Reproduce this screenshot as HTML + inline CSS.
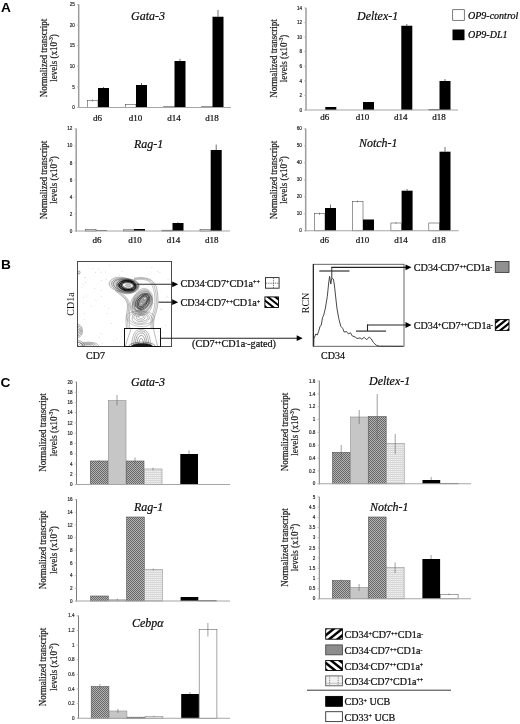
<!DOCTYPE html>
<html><head><meta charset="utf-8"><title>Figure</title>
<style>
html,body{margin:0;padding:0;background:#fff;}
body{width:520px;height:724px;overflow:hidden;font-family:"Liberation Serif",serif;}
svg{display:block;position:absolute;left:0;top:0;}
#fig{position:relative;width:520px;height:724px;overflow:hidden;will-change:transform;}
.it{position:absolute;-webkit-text-stroke:0.22px;transform-origin:0 0;font-family:"Liberation Serif",serif;font-style:italic;line-height:1;white-space:nowrap;margin:0;padding:0;}
</style></head><body>
<div id="fig">
<svg width="520" height="724" viewBox="0 0 520 724">
<defs>
<pattern id="chk" width="2" height="2" patternUnits="userSpaceOnUse">
<rect width="2" height="2" fill="#b2b2b2"/><rect width="1" height="1" fill="#686868"/><rect x="1" y="1" width="1" height="1" fill="#686868"/>
</pattern>
<pattern id="dot" width="2" height="2" patternUnits="userSpaceOnUse">
<rect width="2" height="2" fill="#f1f1f1"/><rect width="2" height="0.8" fill="#cfcfcf"/><rect width="0.7" height="2" fill="#dcdcdc"/>
</pattern>
<pattern id="hf" width="4" height="4" patternUnits="userSpaceOnUse" patternTransform="rotate(-45)">
<rect width="4" height="4" fill="#fff"/><rect width="4" height="2.3" fill="#000"/>
</pattern>
<pattern id="hb" width="4" height="4" patternUnits="userSpaceOnUse" patternTransform="rotate(45)">
<rect width="4" height="4" fill="#fff"/><rect width="4" height="2.3" fill="#000"/>
</pattern>
<pattern id="dotb" width="4.6" height="3.6" patternUnits="userSpaceOnUse">
<rect width="4.6" height="3.6" fill="#f4f4f4"/><rect x="1.9" width="0.7" height="3.6" fill="#999"/><rect y="1.5" width="4.6" height="0.6" fill="#aaa"/>
</pattern>
</defs>
<rect width="520" height="724" fill="#fff"/>

<text x="1.1" y="11.9" font-size="13.7" text-anchor="start" font-family='"Liberation Sans", sans-serif' fill="#000" font-weight="bold" >A</text>
<text x="1.1" y="269.4" font-size="13.7" text-anchor="start" font-family='"Liberation Sans", sans-serif' fill="#000" font-weight="bold" >B</text>
<text x="0.6" y="387" font-size="13.7" text-anchor="start" font-family='"Liberation Sans", sans-serif' fill="#000" font-weight="bold" >C</text>
<rect x="87.30" y="100.50" width="10.70" height="7.00" fill="#fff" stroke="#444" stroke-width="0.55"/>
<rect x="98.00" y="88.00" width="11.00" height="19.50" fill="#000"/>
<line x1="92.5" y1="99.3" x2="92.5" y2="101.6" stroke="#666" stroke-width="0.6"/>
<line x1="103.5" y1="87" x2="103.5" y2="88" stroke="#333" stroke-width="0.7"/>
<rect x="125.30" y="104.40" width="10.70" height="3.10" fill="#fff" stroke="#444" stroke-width="0.55"/>
<rect x="136.00" y="85.00" width="11.00" height="22.50" fill="#000"/>
<line x1="141.5" y1="83" x2="141.5" y2="85" stroke="#333" stroke-width="0.7"/>
<rect x="163.80" y="106.30" width="10.70" height="1.20" fill="#fff" stroke="#444" stroke-width="0.55"/>
<rect x="174.50" y="61.00" width="11.00" height="46.50" fill="#000"/>
<line x1="180.0" y1="58.8" x2="180.0" y2="61" stroke="#333" stroke-width="0.7"/>
<rect x="201.80" y="106.60" width="10.70" height="0.90" fill="#fff" stroke="#444" stroke-width="0.55"/>
<rect x="212.50" y="16.75" width="11.00" height="90.75" fill="#000"/>
<line x1="218.0" y1="10" x2="218.0" y2="16.75" stroke="#333" stroke-width="0.7"/>
<line x1="78.7" y1="4.2" x2="78.7" y2="108.0" stroke="#9c9c9c" stroke-width="1.5"/>
<line x1="78.0" y1="107.5" x2="231" y2="107.5" stroke="#a6a6a6" stroke-width="1.1"/>
<line x1="76.9" y1="4.5" x2="78.7" y2="4.5" stroke="#b0b0b0" stroke-width="0.8"/>
<text x="74.8" y="6.15" font-size="4.6" text-anchor="end" font-family='"Liberation Sans", sans-serif' fill="#2a2a2a"  stroke="#2a2a2a" stroke-width="0.18">25</text>
<line x1="76.9" y1="25.1" x2="78.7" y2="25.1" stroke="#b0b0b0" stroke-width="0.8"/>
<text x="74.8" y="26.75" font-size="4.6" text-anchor="end" font-family='"Liberation Sans", sans-serif' fill="#2a2a2a"  stroke="#2a2a2a" stroke-width="0.18">20</text>
<line x1="76.9" y1="45.7" x2="78.7" y2="45.7" stroke="#b0b0b0" stroke-width="0.8"/>
<text x="74.8" y="47.35" font-size="4.6" text-anchor="end" font-family='"Liberation Sans", sans-serif' fill="#2a2a2a"  stroke="#2a2a2a" stroke-width="0.18">15</text>
<line x1="76.9" y1="66.3" x2="78.7" y2="66.3" stroke="#b0b0b0" stroke-width="0.8"/>
<text x="74.8" y="67.95" font-size="4.6" text-anchor="end" font-family='"Liberation Sans", sans-serif' fill="#2a2a2a"  stroke="#2a2a2a" stroke-width="0.18">10</text>
<line x1="76.9" y1="86.9" x2="78.7" y2="86.9" stroke="#b0b0b0" stroke-width="0.8"/>
<text x="74.8" y="88.55000000000001" font-size="4.6" text-anchor="end" font-family='"Liberation Sans", sans-serif' fill="#2a2a2a"  stroke="#2a2a2a" stroke-width="0.18">5</text>
<line x1="76.9" y1="107.5" x2="78.7" y2="107.5" stroke="#b0b0b0" stroke-width="0.8"/>
<text x="74.8" y="109.15" font-size="4.6" text-anchor="end" font-family='"Liberation Sans", sans-serif' fill="#2a2a2a"  stroke="#2a2a2a" stroke-width="0.18">0</text>
<text x="97.5" y="120.6" font-size="9" text-anchor="middle" font-family='"Liberation Serif", serif' fill="#111"   stroke="#111" stroke-width="0.22">d6</text>
<text x="135.5" y="120.6" font-size="9" text-anchor="middle" font-family='"Liberation Serif", serif' fill="#111"   stroke="#111" stroke-width="0.22">d10</text>
<text x="174.0" y="120.6" font-size="9" text-anchor="middle" font-family='"Liberation Serif", serif' fill="#111"   stroke="#111" stroke-width="0.22">d14</text>
<text x="212.0" y="120.6" font-size="9" text-anchor="middle" font-family='"Liberation Serif", serif' fill="#111"   stroke="#111" stroke-width="0.22">d18</text>
<text transform="translate(46.9,58) rotate(-90) scale(0.875,1)" font-size="10.3" text-anchor="middle" font-family='"Liberation Serif", serif' fill="#1a1a1a" stroke="#1a1a1a" stroke-width="0.2">Normalized transcript</text>
<text transform="translate(57.4,58) rotate(-90) scale(0.875,1)" font-size="10.3" text-anchor="middle" font-family='"Liberation Serif", serif' fill="#1a1a1a" stroke="#1a1a1a" stroke-width="0.2">levels (x10<tspan font-size="6.39" dy="-3.91">-3</tspan><tspan dy="3.91">)</tspan></text>
<rect x="325.30" y="107.00" width="11.00" height="3.00" fill="#000"/>
<rect x="363.00" y="102.00" width="11.00" height="8.00" fill="#000"/>
<rect x="401.30" y="25.75" width="11.00" height="84.25" fill="#000"/>
<line x1="406.8" y1="24" x2="406.8" y2="25.75" stroke="#333" stroke-width="0.7"/>
<rect x="428.80" y="109.60" width="10.70" height="0.40" fill="#fff" stroke="#444" stroke-width="0.55"/>
<rect x="439.50" y="81.00" width="11.00" height="29.00" fill="#000"/>
<line x1="445.0" y1="79" x2="445.0" y2="81" stroke="#333" stroke-width="0.7"/>
<line x1="306" y1="7.7" x2="306" y2="110.5" stroke="#9c9c9c" stroke-width="1.5"/>
<line x1="305.3" y1="110" x2="458" y2="110" stroke="#a6a6a6" stroke-width="1.1"/>
<line x1="304.2" y1="8.0" x2="306" y2="8.0" stroke="#b0b0b0" stroke-width="0.8"/>
<text x="302.1" y="9.65" font-size="4.6" text-anchor="end" font-family='"Liberation Sans", sans-serif' fill="#2a2a2a"  stroke="#2a2a2a" stroke-width="0.18">14</text>
<line x1="304.2" y1="22.57142857142857" x2="306" y2="22.57142857142857" stroke="#b0b0b0" stroke-width="0.8"/>
<text x="302.1" y="24.221428571428568" font-size="4.6" text-anchor="end" font-family='"Liberation Sans", sans-serif' fill="#2a2a2a"  stroke="#2a2a2a" stroke-width="0.18">12</text>
<line x1="304.2" y1="37.14285714285714" x2="306" y2="37.14285714285714" stroke="#b0b0b0" stroke-width="0.8"/>
<text x="302.1" y="38.79285714285714" font-size="4.6" text-anchor="end" font-family='"Liberation Sans", sans-serif' fill="#2a2a2a"  stroke="#2a2a2a" stroke-width="0.18">10</text>
<line x1="304.2" y1="51.714285714285715" x2="306" y2="51.714285714285715" stroke="#b0b0b0" stroke-width="0.8"/>
<text x="302.1" y="53.364285714285714" font-size="4.6" text-anchor="end" font-family='"Liberation Sans", sans-serif' fill="#2a2a2a"  stroke="#2a2a2a" stroke-width="0.18">8</text>
<line x1="304.2" y1="66.28571428571428" x2="306" y2="66.28571428571428" stroke="#b0b0b0" stroke-width="0.8"/>
<text x="302.1" y="67.93571428571428" font-size="4.6" text-anchor="end" font-family='"Liberation Sans", sans-serif' fill="#2a2a2a"  stroke="#2a2a2a" stroke-width="0.18">6</text>
<line x1="304.2" y1="80.85714285714286" x2="306" y2="80.85714285714286" stroke="#b0b0b0" stroke-width="0.8"/>
<text x="302.1" y="82.50714285714287" font-size="4.6" text-anchor="end" font-family='"Liberation Sans", sans-serif' fill="#2a2a2a"  stroke="#2a2a2a" stroke-width="0.18">4</text>
<line x1="304.2" y1="95.42857142857143" x2="306" y2="95.42857142857143" stroke="#b0b0b0" stroke-width="0.8"/>
<text x="302.1" y="97.07857142857144" font-size="4.6" text-anchor="end" font-family='"Liberation Sans", sans-serif' fill="#2a2a2a"  stroke="#2a2a2a" stroke-width="0.18">2</text>
<line x1="304.2" y1="110.0" x2="306" y2="110.0" stroke="#b0b0b0" stroke-width="0.8"/>
<text x="302.1" y="111.65" font-size="4.6" text-anchor="end" font-family='"Liberation Sans", sans-serif' fill="#2a2a2a"  stroke="#2a2a2a" stroke-width="0.18">0</text>
<text x="324.8" y="119.7" font-size="9" text-anchor="middle" font-family='"Liberation Serif", serif' fill="#111"   stroke="#111" stroke-width="0.22">d6</text>
<text x="362.5" y="119.7" font-size="9" text-anchor="middle" font-family='"Liberation Serif", serif' fill="#111"   stroke="#111" stroke-width="0.22">d10</text>
<text x="400.8" y="119.7" font-size="9" text-anchor="middle" font-family='"Liberation Serif", serif' fill="#111"   stroke="#111" stroke-width="0.22">d14</text>
<text x="439.0" y="119.7" font-size="9" text-anchor="middle" font-family='"Liberation Serif", serif' fill="#111"   stroke="#111" stroke-width="0.22">d18</text>
<text transform="translate(276.9,58.5) rotate(-90) scale(0.875,1)" font-size="10.3" text-anchor="middle" font-family='"Liberation Serif", serif' fill="#1a1a1a" stroke="#1a1a1a" stroke-width="0.2">Normalized transcript</text>
<text transform="translate(287.4,58.5) rotate(-90) scale(0.875,1)" font-size="10.3" text-anchor="middle" font-family='"Liberation Serif", serif' fill="#1a1a1a" stroke="#1a1a1a" stroke-width="0.2">levels (x10<tspan font-size="6.39" dy="-3.91">-3</tspan><tspan dy="3.91">)</tspan></text>
<rect x="85.30" y="229.60" width="10.70" height="1.40" fill="#fff" stroke="#444" stroke-width="0.55"/>
<rect x="96.00" y="230.40" width="11.00" height="0.60" fill="#000"/>
<rect x="123.30" y="229.80" width="10.70" height="1.20" fill="#fff" stroke="#444" stroke-width="0.55"/>
<rect x="134.00" y="229.00" width="11.00" height="2.00" fill="#000"/>
<rect x="161.80" y="230.20" width="10.70" height="0.80" fill="#fff" stroke="#444" stroke-width="0.55"/>
<rect x="172.50" y="223.00" width="11.00" height="8.00" fill="#000"/>
<line x1="178.0" y1="222.4" x2="178.0" y2="223" stroke="#333" stroke-width="0.7"/>
<rect x="200.00" y="229.60" width="10.70" height="1.40" fill="#fff" stroke="#444" stroke-width="0.55"/>
<rect x="210.70" y="150.00" width="11.00" height="81.00" fill="#000"/>
<line x1="216.2" y1="144.5" x2="216.2" y2="150" stroke="#333" stroke-width="0.7"/>
<line x1="76.2" y1="128.5" x2="76.2" y2="231.5" stroke="#9c9c9c" stroke-width="1.5"/>
<line x1="75.5" y1="231" x2="230" y2="231" stroke="#a6a6a6" stroke-width="1.1"/>
<line x1="74.4" y1="128.8" x2="76.2" y2="128.8" stroke="#b0b0b0" stroke-width="0.8"/>
<text x="72.3" y="130.45000000000002" font-size="4.6" text-anchor="end" font-family='"Liberation Sans", sans-serif' fill="#2a2a2a"  stroke="#2a2a2a" stroke-width="0.18">12</text>
<line x1="74.4" y1="145.83333333333334" x2="76.2" y2="145.83333333333334" stroke="#b0b0b0" stroke-width="0.8"/>
<text x="72.3" y="147.48333333333335" font-size="4.6" text-anchor="end" font-family='"Liberation Sans", sans-serif' fill="#2a2a2a"  stroke="#2a2a2a" stroke-width="0.18">10</text>
<line x1="74.4" y1="162.86666666666667" x2="76.2" y2="162.86666666666667" stroke="#b0b0b0" stroke-width="0.8"/>
<text x="72.3" y="164.51666666666668" font-size="4.6" text-anchor="end" font-family='"Liberation Sans", sans-serif' fill="#2a2a2a"  stroke="#2a2a2a" stroke-width="0.18">8</text>
<line x1="74.4" y1="179.9" x2="76.2" y2="179.9" stroke="#b0b0b0" stroke-width="0.8"/>
<text x="72.3" y="181.55" font-size="4.6" text-anchor="end" font-family='"Liberation Sans", sans-serif' fill="#2a2a2a"  stroke="#2a2a2a" stroke-width="0.18">6</text>
<line x1="74.4" y1="196.93333333333334" x2="76.2" y2="196.93333333333334" stroke="#b0b0b0" stroke-width="0.8"/>
<text x="72.3" y="198.58333333333334" font-size="4.6" text-anchor="end" font-family='"Liberation Sans", sans-serif' fill="#2a2a2a"  stroke="#2a2a2a" stroke-width="0.18">4</text>
<line x1="74.4" y1="213.96666666666667" x2="76.2" y2="213.96666666666667" stroke="#b0b0b0" stroke-width="0.8"/>
<text x="72.3" y="215.61666666666667" font-size="4.6" text-anchor="end" font-family='"Liberation Sans", sans-serif' fill="#2a2a2a"  stroke="#2a2a2a" stroke-width="0.18">2</text>
<line x1="74.4" y1="231.0" x2="76.2" y2="231.0" stroke="#b0b0b0" stroke-width="0.8"/>
<text x="72.3" y="232.65" font-size="4.6" text-anchor="end" font-family='"Liberation Sans", sans-serif' fill="#2a2a2a"  stroke="#2a2a2a" stroke-width="0.18">0</text>
<text x="97.1" y="243.3" font-size="9" text-anchor="middle" font-family='"Liberation Serif", serif' fill="#111"   stroke="#111" stroke-width="0.22">d6</text>
<text x="135.1" y="243.3" font-size="9" text-anchor="middle" font-family='"Liberation Serif", serif' fill="#111"   stroke="#111" stroke-width="0.22">d10</text>
<text x="173.6" y="243.3" font-size="9" text-anchor="middle" font-family='"Liberation Serif", serif' fill="#111"   stroke="#111" stroke-width="0.22">d14</text>
<text x="211.79999999999998" y="243.3" font-size="9" text-anchor="middle" font-family='"Liberation Serif", serif' fill="#111"   stroke="#111" stroke-width="0.22">d18</text>
<text transform="translate(46.9,180) rotate(-90) scale(0.875,1)" font-size="10.3" text-anchor="middle" font-family='"Liberation Serif", serif' fill="#1a1a1a" stroke="#1a1a1a" stroke-width="0.2">Normalized transcript</text>
<text transform="translate(57.4,180) rotate(-90) scale(0.875,1)" font-size="10.3" text-anchor="middle" font-family='"Liberation Serif", serif' fill="#1a1a1a" stroke="#1a1a1a" stroke-width="0.2">levels (x10<tspan font-size="6.39" dy="-3.91">-3</tspan><tspan dy="3.91">)</tspan></text>
<rect x="314.30" y="213.70" width="10.70" height="17.10" fill="#fff" stroke="#444" stroke-width="0.55"/>
<rect x="325.00" y="208.00" width="11.00" height="22.80" fill="#000"/>
<line x1="319.5" y1="212.5" x2="319.5" y2="215" stroke="#666" stroke-width="0.6"/>
<line x1="330.5" y1="204.5" x2="330.5" y2="208" stroke="#333" stroke-width="0.7"/>
<rect x="352.30" y="201.50" width="10.70" height="29.30" fill="#fff" stroke="#444" stroke-width="0.55"/>
<rect x="363.00" y="219.50" width="11.00" height="11.30" fill="#000"/>
<line x1="357.5" y1="200.5" x2="357.5" y2="202.5" stroke="#666" stroke-width="0.6"/>
<rect x="390.90" y="223.00" width="10.70" height="7.80" fill="#fff" stroke="#444" stroke-width="0.55"/>
<rect x="401.60" y="190.70" width="11.00" height="40.10" fill="#000"/>
<line x1="396.1" y1="222" x2="396.1" y2="224" stroke="#666" stroke-width="0.6"/>
<line x1="407.1" y1="189" x2="407.1" y2="190.7" stroke="#333" stroke-width="0.7"/>
<rect x="428.80" y="223.00" width="10.70" height="7.80" fill="#fff" stroke="#444" stroke-width="0.55"/>
<rect x="439.50" y="151.70" width="11.00" height="79.10" fill="#000"/>
<line x1="445.0" y1="147" x2="445.0" y2="151.7" stroke="#333" stroke-width="0.7"/>
<line x1="305.7" y1="128.5" x2="305.7" y2="231.3" stroke="#9c9c9c" stroke-width="1.5"/>
<line x1="305.0" y1="230.8" x2="458.7" y2="230.8" stroke="#a6a6a6" stroke-width="1.1"/>
<line x1="303.9" y1="128.8" x2="305.7" y2="128.8" stroke="#b0b0b0" stroke-width="0.8"/>
<text x="301.8" y="130.45000000000002" font-size="4.6" text-anchor="end" font-family='"Liberation Sans", sans-serif' fill="#2a2a2a"  stroke="#2a2a2a" stroke-width="0.18">60</text>
<line x1="303.9" y1="145.8" x2="305.7" y2="145.8" stroke="#b0b0b0" stroke-width="0.8"/>
<text x="301.8" y="147.45000000000002" font-size="4.6" text-anchor="end" font-family='"Liberation Sans", sans-serif' fill="#2a2a2a"  stroke="#2a2a2a" stroke-width="0.18">50</text>
<line x1="303.9" y1="162.8" x2="305.7" y2="162.8" stroke="#b0b0b0" stroke-width="0.8"/>
<text x="301.8" y="164.45000000000002" font-size="4.6" text-anchor="end" font-family='"Liberation Sans", sans-serif' fill="#2a2a2a"  stroke="#2a2a2a" stroke-width="0.18">40</text>
<line x1="303.9" y1="179.8" x2="305.7" y2="179.8" stroke="#b0b0b0" stroke-width="0.8"/>
<text x="301.8" y="181.45000000000002" font-size="4.6" text-anchor="end" font-family='"Liberation Sans", sans-serif' fill="#2a2a2a"  stroke="#2a2a2a" stroke-width="0.18">30</text>
<line x1="303.9" y1="196.8" x2="305.7" y2="196.8" stroke="#b0b0b0" stroke-width="0.8"/>
<text x="301.8" y="198.45000000000002" font-size="4.6" text-anchor="end" font-family='"Liberation Sans", sans-serif' fill="#2a2a2a"  stroke="#2a2a2a" stroke-width="0.18">20</text>
<line x1="303.9" y1="213.8" x2="305.7" y2="213.8" stroke="#b0b0b0" stroke-width="0.8"/>
<text x="301.8" y="215.45000000000002" font-size="4.6" text-anchor="end" font-family='"Liberation Sans", sans-serif' fill="#2a2a2a"  stroke="#2a2a2a" stroke-width="0.18">10</text>
<line x1="303.9" y1="230.8" x2="305.7" y2="230.8" stroke="#b0b0b0" stroke-width="0.8"/>
<text x="301.8" y="232.45000000000002" font-size="4.6" text-anchor="end" font-family='"Liberation Sans", sans-serif' fill="#2a2a2a"  stroke="#2a2a2a" stroke-width="0.18">0</text>
<text x="324.5" y="243.3" font-size="9" text-anchor="middle" font-family='"Liberation Serif", serif' fill="#111"   stroke="#111" stroke-width="0.22">d6</text>
<text x="362.5" y="243.3" font-size="9" text-anchor="middle" font-family='"Liberation Serif", serif' fill="#111"   stroke="#111" stroke-width="0.22">d10</text>
<text x="401.1" y="243.3" font-size="9" text-anchor="middle" font-family='"Liberation Serif", serif' fill="#111"   stroke="#111" stroke-width="0.22">d14</text>
<text x="439.0" y="243.3" font-size="9" text-anchor="middle" font-family='"Liberation Serif", serif' fill="#111"   stroke="#111" stroke-width="0.22">d18</text>
<text transform="translate(276.9,180) rotate(-90) scale(0.875,1)" font-size="10.3" text-anchor="middle" font-family='"Liberation Serif", serif' fill="#1a1a1a" stroke="#1a1a1a" stroke-width="0.2">Normalized transcript</text>
<text transform="translate(287.4,180) rotate(-90) scale(0.875,1)" font-size="10.3" text-anchor="middle" font-family='"Liberation Serif", serif' fill="#1a1a1a" stroke="#1a1a1a" stroke-width="0.2">levels (x10<tspan font-size="6.39" dy="-3.91">-3</tspan><tspan dy="3.91">)</tspan></text>
<rect x="452.70" y="9.70" width="11.60" height="10.60" fill="#fff" stroke="#444" stroke-width="0.7"/>
<rect x="452.50" y="29.50" width="12.00" height="10.70" fill="#000"/>
<rect x="77.50" y="261.50" width="94.00" height="85.00" fill="none" stroke="#4a4a4a" stroke-width="1"/>
<g fill="none" stroke-linejoin="round">
<path d="M138.94,287.48 C138.82,288.03 138.64,288.58 138.34,289.09 C138.05,289.59 137.65,290.08 137.17,290.51 C136.69,290.93 136.09,291.31 135.47,291.65 C134.84,291.99 134.15,292.27 133.43,292.53 C132.72,292.79 131.98,293.03 131.19,293.22 C130.40,293.41 129.56,293.59 128.69,293.68 C127.82,293.76 126.87,293.80 125.95,293.72 C125.04,293.65 124.09,293.45 123.21,293.21 C122.32,292.98 121.50,292.64 120.64,292.33 C119.77,292.02 118.93,291.70 118.02,291.34 C117.11,290.97 116.14,290.60 115.18,290.13 C114.23,289.66 113.16,289.13 112.30,288.50 C111.44,287.86 110.56,287.10 110.04,286.32 C109.51,285.54 109.18,284.64 109.15,283.82 C109.13,283.00 109.43,282.15 109.89,281.41 C110.35,280.68 111.09,279.99 111.91,279.42 C112.73,278.85 113.75,278.37 114.80,278.02 C115.85,277.67 117.06,277.43 118.23,277.33 C119.39,277.22 120.64,277.28 121.78,277.37 C122.91,277.47 124.01,277.72 125.02,277.91 C126.02,278.11 126.91,278.37 127.81,278.57 C128.72,278.77 129.55,278.91 130.43,279.10 C131.32,279.29 132.26,279.43 133.13,279.71 C133.99,279.98 134.90,280.33 135.64,280.75 C136.37,281.17 137.05,281.70 137.55,282.24 C138.06,282.78 138.41,283.40 138.66,283.99 C138.90,284.58 139.00,285.19 139.05,285.77 C139.10,286.35 139.06,286.93 138.94,287.48 Z" stroke="#5e5e5e" stroke-width="0.45" fill="rgba(0,0,0,0.07)"/>
<path d="M138.31,287.10 C138.12,287.61 137.81,288.08 137.49,288.55 C137.18,289.01 136.84,289.44 136.44,289.86 C136.03,290.28 135.61,290.69 135.08,291.05 C134.56,291.41 133.96,291.75 133.29,292.02 C132.63,292.29 131.88,292.49 131.11,292.65 C130.34,292.80 129.52,292.90 128.70,292.95 C127.87,293.00 127.01,293.02 126.16,292.97 C125.30,292.93 124.41,292.83 123.55,292.68 C122.69,292.52 121.82,292.30 120.99,292.03 C120.15,291.77 119.31,291.46 118.52,291.09 C117.73,290.72 116.98,290.29 116.27,289.81 C115.56,289.34 114.88,288.82 114.26,288.26 C113.64,287.69 113.01,287.07 112.57,286.41 C112.12,285.74 111.70,285.00 111.58,284.29 C111.46,283.58 111.53,282.80 111.86,282.14 C112.19,281.49 112.84,280.85 113.56,280.36 C114.29,279.87 115.29,279.48 116.23,279.18 C117.17,278.88 118.23,278.69 119.22,278.55 C120.21,278.41 121.21,278.34 122.17,278.32 C123.13,278.30 124.08,278.34 124.99,278.42 C125.91,278.50 126.79,278.64 127.65,278.80 C128.50,278.95 129.32,279.14 130.14,279.35 C130.95,279.56 131.76,279.78 132.54,280.05 C133.32,280.33 134.10,280.64 134.81,281.00 C135.53,281.37 136.25,281.78 136.81,282.25 C137.38,282.72 137.88,283.26 138.19,283.80 C138.49,284.34 138.64,284.93 138.66,285.49 C138.68,286.04 138.50,286.59 138.31,287.10 Z" stroke="#4e4e4e" stroke-width="0.45" fill="rgba(0,0,0,0.07)"/>
<path d="M137.82,286.76 C137.72,287.25 137.52,287.72 137.28,288.18 C137.04,288.65 136.76,289.10 136.39,289.52 C136.02,289.94 135.58,290.35 135.05,290.70 C134.53,291.04 133.89,291.35 133.22,291.59 C132.55,291.82 131.79,291.99 131.03,292.11 C130.28,292.23 129.49,292.28 128.70,292.31 C127.92,292.34 127.12,292.33 126.33,292.26 C125.55,292.20 124.74,292.10 123.97,291.94 C123.20,291.79 122.44,291.57 121.71,291.32 C120.99,291.06 120.29,290.76 119.63,290.42 C118.97,290.09 118.35,289.72 117.74,289.31 C117.14,288.91 116.54,288.48 115.98,288.00 C115.42,287.52 114.82,287.01 114.39,286.44 C113.97,285.88 113.55,285.24 113.40,284.62 C113.26,284.00 113.27,283.31 113.52,282.73 C113.78,282.14 114.30,281.56 114.90,281.10 C115.51,280.64 116.34,280.25 117.15,279.95 C117.96,279.64 118.88,279.43 119.76,279.27 C120.64,279.10 121.55,279.01 122.43,278.97 C123.30,278.93 124.19,278.96 125.03,279.03 C125.87,279.10 126.68,279.24 127.46,279.39 C128.24,279.54 128.97,279.72 129.71,279.91 C130.44,280.10 131.15,280.30 131.85,280.53 C132.56,280.76 133.28,281.01 133.95,281.31 C134.62,281.62 135.31,281.96 135.87,282.36 C136.42,282.76 136.93,283.23 137.27,283.71 C137.61,284.19 137.81,284.73 137.90,285.24 C137.99,285.74 137.92,286.26 137.82,286.76 Z" stroke="#404040" stroke-width="0.5" fill="rgba(0,0,0,0.07)"/>
<path d="M136.95,286.40 C136.95,286.84 136.82,287.31 136.62,287.73 C136.42,288.16 136.11,288.57 135.76,288.95 C135.41,289.34 134.99,289.70 134.53,290.04 C134.06,290.37 133.54,290.70 132.96,290.96 C132.38,291.22 131.72,291.46 131.04,291.62 C130.35,291.78 129.58,291.87 128.84,291.90 C128.10,291.94 127.32,291.90 126.57,291.83 C125.83,291.76 125.09,291.63 124.36,291.49 C123.64,291.34 122.91,291.17 122.22,290.96 C121.52,290.75 120.80,290.51 120.17,290.20 C119.55,289.90 118.93,289.54 118.46,289.14 C117.99,288.74 117.61,288.28 117.34,287.82 C117.06,287.36 116.92,286.87 116.81,286.40 C116.70,285.93 116.67,285.45 116.69,284.98 C116.70,284.51 116.74,284.03 116.88,283.56 C117.02,283.10 117.21,282.61 117.53,282.18 C117.85,281.75 118.29,281.33 118.81,280.98 C119.33,280.64 119.98,280.34 120.64,280.09 C121.30,279.85 122.05,279.66 122.79,279.52 C123.53,279.38 124.31,279.28 125.08,279.24 C125.86,279.19 126.67,279.19 127.45,279.26 C128.23,279.34 129.03,279.47 129.75,279.67 C130.47,279.87 131.17,280.15 131.77,280.46 C132.37,280.76 132.89,281.14 133.37,281.50 C133.86,281.86 134.26,282.23 134.66,282.61 C135.06,282.99 135.45,283.37 135.77,283.78 C136.10,284.18 136.42,284.60 136.62,285.04 C136.81,285.48 136.94,285.95 136.95,286.40 Z" stroke="#303030" stroke-width="0.55" fill="rgba(0,0,0,0.07)"/>
<path d="M136.02,286.21 C136.03,286.62 136.01,287.03 135.91,287.43 C135.81,287.84 135.68,288.27 135.43,288.65 C135.18,289.03 134.83,289.42 134.39,289.73 C133.96,290.04 133.39,290.32 132.80,290.51 C132.21,290.71 131.53,290.83 130.87,290.91 C130.22,291.00 129.54,291.02 128.88,291.02 C128.22,291.02 127.57,290.99 126.93,290.93 C126.29,290.86 125.64,290.77 125.03,290.64 C124.42,290.50 123.81,290.32 123.25,290.10 C122.70,289.89 122.18,289.62 121.70,289.34 C121.22,289.07 120.79,288.76 120.37,288.43 C119.96,288.11 119.56,287.77 119.22,287.40 C118.88,287.03 118.55,286.64 118.34,286.23 C118.13,285.82 117.98,285.37 117.98,284.95 C117.98,284.52 118.11,284.08 118.33,283.69 C118.55,283.30 118.91,282.93 119.29,282.60 C119.67,282.26 120.14,281.97 120.61,281.70 C121.08,281.43 121.58,281.18 122.11,280.96 C122.64,280.74 123.20,280.53 123.79,280.39 C124.39,280.24 125.04,280.13 125.69,280.08 C126.34,280.04 127.03,280.07 127.68,280.13 C128.34,280.20 128.99,280.33 129.61,280.48 C130.23,280.63 130.83,280.82 131.40,281.04 C131.97,281.25 132.54,281.48 133.04,281.76 C133.55,282.03 134.04,282.35 134.43,282.68 C134.82,283.02 135.15,283.41 135.40,283.79 C135.64,284.18 135.78,284.59 135.89,285.00 C135.99,285.40 136.02,285.80 136.02,286.21 Z" stroke="#111" stroke-width="0.9" fill="rgba(0,0,0,0.25)"/>
<path d="M135.29,286.05 C135.35,286.40 135.38,286.78 135.28,287.13 C135.18,287.48 134.99,287.84 134.72,288.15 C134.44,288.46 134.04,288.75 133.62,288.99 C133.20,289.23 132.69,289.42 132.19,289.59 C131.68,289.75 131.14,289.88 130.59,289.97 C130.04,290.07 129.47,290.14 128.90,290.17 C128.34,290.20 127.74,290.19 127.18,290.13 C126.61,290.08 126.03,289.98 125.50,289.85 C124.96,289.72 124.44,289.54 123.95,289.35 C123.46,289.16 123.00,288.95 122.55,288.72 C122.11,288.49 121.67,288.24 121.29,287.97 C120.91,287.69 120.54,287.38 120.27,287.06 C120.01,286.74 119.80,286.37 119.69,286.02 C119.58,285.67 119.58,285.30 119.63,284.95 C119.68,284.60 119.84,284.26 120.01,283.93 C120.18,283.60 120.40,283.29 120.67,282.99 C120.93,282.69 121.22,282.39 121.57,282.12 C121.93,281.86 122.33,281.60 122.79,281.40 C123.26,281.20 123.79,281.03 124.34,280.92 C124.88,280.81 125.49,280.76 126.07,280.74 C126.65,280.72 127.25,280.76 127.83,280.82 C128.40,280.88 128.98,280.97 129.53,281.09 C130.08,281.21 130.63,281.37 131.13,281.56 C131.63,281.75 132.10,281.98 132.51,282.23 C132.92,282.49 133.28,282.78 133.59,283.08 C133.90,283.38 134.14,283.70 134.37,284.02 C134.59,284.34 134.78,284.66 134.94,285.00 C135.09,285.34 135.24,285.69 135.29,286.05 Z" stroke="#000" stroke-width="1.0" fill="none"/>
<path d="M134.24,285.96 C134.20,286.23 134.10,286.50 133.96,286.76 C133.81,287.01 133.60,287.25 133.37,287.48 C133.14,287.71 132.87,287.92 132.57,288.13 C132.28,288.33 131.97,288.53 131.61,288.71 C131.25,288.89 130.85,289.06 130.41,289.19 C129.98,289.31 129.48,289.42 128.98,289.46 C128.48,289.50 127.93,289.49 127.42,289.44 C126.91,289.40 126.40,289.29 125.92,289.17 C125.44,289.05 124.98,288.89 124.55,288.72 C124.12,288.56 123.71,288.37 123.33,288.17 C122.96,287.96 122.60,287.74 122.30,287.50 C122.01,287.26 121.75,286.99 121.56,286.72 C121.38,286.45 121.26,286.16 121.19,285.88 C121.12,285.60 121.12,285.32 121.15,285.04 C121.17,284.77 121.25,284.49 121.36,284.22 C121.48,283.96 121.62,283.69 121.84,283.45 C122.05,283.21 122.32,282.97 122.64,282.77 C122.96,282.57 123.35,282.40 123.76,282.26 C124.17,282.12 124.63,282.02 125.08,281.94 C125.54,281.86 126.01,281.81 126.49,281.77 C126.97,281.73 127.46,281.70 127.97,281.71 C128.47,281.71 128.99,281.73 129.49,281.81 C130.00,281.88 130.52,281.99 130.98,282.14 C131.44,282.30 131.88,282.50 132.24,282.72 C132.61,282.94 132.92,283.21 133.19,283.47 C133.45,283.73 133.65,284.01 133.82,284.28 C133.98,284.56 134.11,284.84 134.18,285.12 C134.25,285.40 134.28,285.68 134.24,285.96 Z" stroke="#000" stroke-width="1.0" fill="none"/>
<path d="M133.31,285.88 C133.32,286.08 133.28,286.29 133.19,286.48 C133.09,286.67 132.92,286.86 132.73,287.03 C132.53,287.19 132.28,287.34 132.01,287.48 C131.75,287.62 131.45,287.75 131.14,287.86 C130.82,287.97 130.49,288.08 130.12,288.16 C129.76,288.23 129.36,288.30 128.96,288.32 C128.55,288.34 128.11,288.33 127.71,288.28 C127.30,288.23 126.89,288.14 126.52,288.04 C126.15,287.94 125.81,287.81 125.49,287.68 C125.16,287.55 124.87,287.41 124.58,287.27 C124.30,287.13 124.02,286.98 123.77,286.82 C123.52,286.66 123.28,286.49 123.10,286.31 C122.91,286.13 122.76,285.93 122.66,285.73 C122.56,285.53 122.52,285.32 122.51,285.12 C122.50,284.92 122.53,284.72 122.61,284.52 C122.68,284.32 122.78,284.12 122.94,283.93 C123.11,283.75 123.32,283.57 123.58,283.42 C123.84,283.27 124.18,283.14 124.53,283.04 C124.88,282.95 125.30,282.90 125.69,282.86 C126.09,282.83 126.51,282.83 126.90,282.84 C127.30,282.85 127.69,282.88 128.08,282.91 C128.47,282.94 128.86,282.98 129.24,283.04 C129.62,283.10 130.02,283.17 130.37,283.27 C130.73,283.37 131.09,283.49 131.39,283.64 C131.69,283.78 131.96,283.96 132.18,284.13 C132.41,284.30 132.59,284.49 132.75,284.68 C132.91,284.87 133.04,285.07 133.14,285.27 C133.23,285.47 133.30,285.68 133.31,285.88 Z" stroke="#333" stroke-width="0.6" fill="#f6f6f6"/>
<path d="M131.03,285.80 C131.04,285.88 131.03,285.98 130.97,286.05 C130.91,286.13 130.81,286.21 130.69,286.27 C130.58,286.34 130.42,286.39 130.26,286.43 C130.11,286.48 129.94,286.51 129.77,286.55 C129.61,286.58 129.44,286.61 129.26,286.63 C129.08,286.65 128.90,286.68 128.71,286.68 C128.52,286.69 128.32,286.69 128.12,286.68 C127.93,286.67 127.73,286.65 127.54,286.61 C127.35,286.58 127.16,286.54 126.98,286.49 C126.81,286.44 126.64,286.39 126.48,286.33 C126.32,286.27 126.17,286.21 126.04,286.14 C125.90,286.07 125.78,285.99 125.69,285.91 C125.61,285.83 125.55,285.75 125.51,285.66 C125.48,285.58 125.48,285.49 125.50,285.41 C125.51,285.33 125.55,285.25 125.60,285.17 C125.64,285.10 125.70,285.02 125.78,284.95 C125.86,284.88 125.96,284.80 126.08,284.74 C126.20,284.68 126.35,284.63 126.52,284.59 C126.69,284.55 126.89,284.52 127.08,284.51 C127.27,284.50 127.48,284.50 127.68,284.51 C127.88,284.51 128.08,284.53 128.27,284.55 C128.47,284.57 128.66,284.59 128.84,284.62 C129.03,284.65 129.22,284.68 129.39,284.72 C129.57,284.77 129.75,284.82 129.90,284.88 C130.05,284.93 130.20,285.00 130.32,285.07 C130.45,285.14 130.56,285.22 130.66,285.29 C130.76,285.37 130.84,285.45 130.91,285.54 C130.97,285.62 131.02,285.71 131.03,285.80 Z" stroke="#6a6a6a" stroke-width="0.5" fill="#d0d0d0"/>
<path d="M134.00,278.20 C135.33,278.10 139.33,277.38 142.00,277.60 C144.67,277.82 147.75,278.27 150.00,279.50 C152.25,280.73 154.23,282.58 155.50,285.00 C156.77,287.42 157.22,290.83 157.60,294.00 C157.98,297.17 158.03,301.00 157.80,304.00 C157.57,307.00 156.83,309.50 156.20,312.00 C155.57,314.50 154.45,316.33 154.00,319.00 C153.55,321.67 153.58,326.50 153.50,328.00" stroke="#5e5e5e" stroke-width="0.45"/>
<path d="M134.00,278.95 C135.33,278.88 139.41,278.26 142.00,278.50 C144.59,278.74 147.55,279.19 149.55,280.40 C151.55,281.61 152.91,283.48 154.00,285.75 C155.09,288.02 155.72,290.96 156.10,294.00 C156.48,297.04 156.53,301.00 156.30,304.00 C156.07,307.00 155.33,309.50 154.70,312.00 C154.07,314.50 152.90,316.33 152.50,319.00 C152.10,321.67 152.33,326.50 152.30,328.00" stroke="#6c6c6c" stroke-width="0.45"/>
<path d="M134.00,279.70 C135.33,279.65 139.48,279.13 142.00,279.40 C144.52,279.67 147.35,280.12 149.10,281.30 C150.85,282.48 151.58,284.38 152.50,286.50 C153.42,288.62 154.22,291.08 154.60,294.00 C154.98,296.92 155.03,301.00 154.80,304.00 C154.57,307.00 153.83,309.50 153.20,312.00 C152.57,314.50 151.35,316.33 151.00,319.00 C150.65,321.67 151.08,326.50 151.10,328.00" stroke="#7c7c7c" stroke-width="0.45"/>
<path d="M115.00,290.50 C115.83,291.17 118.33,293.08 120.00,294.50 C121.67,295.92 123.75,297.25 125.00,299.00 C126.25,300.75 127.17,302.83 127.50,305.00 C127.83,307.17 127.25,309.50 127.00,312.00 C126.75,314.50 126.08,317.33 126.00,320.00 C125.92,322.67 126.42,326.67 126.50,328.00" stroke="#5e5e5e" stroke-width="0.45"/>
<path d="M116.60,290.50 C117.43,291.17 119.99,293.08 121.60,294.50 C123.21,295.92 125.11,297.25 126.28,299.00 C127.45,300.75 128.29,302.83 128.62,305.00 C128.95,307.17 128.45,309.50 128.28,312.00 C128.11,314.50 127.63,317.33 127.60,320.00 C127.57,322.67 128.02,326.67 128.10,328.00" stroke="#6c6c6c" stroke-width="0.45"/>
<path d="M118.20,290.50 C119.03,291.17 121.64,293.08 123.20,294.50 C124.76,295.92 126.47,297.25 127.56,299.00 C128.65,300.75 129.41,302.83 129.74,305.00 C130.07,307.17 129.65,309.50 129.56,312.00 C129.47,314.50 129.18,317.33 129.20,320.00 C129.22,322.67 129.62,326.67 129.70,328.00" stroke="#7c7c7c" stroke-width="0.45"/>
<path d="M149.34,290.73 C149.96,291.24 150.53,291.81 151.00,292.46 C151.47,293.11 151.89,293.84 152.17,294.63 C152.46,295.42 152.62,296.31 152.71,297.18 C152.81,298.06 152.77,298.98 152.73,299.89 C152.69,300.80 152.60,301.71 152.48,302.65 C152.36,303.59 152.25,304.55 152.01,305.54 C151.77,306.52 151.50,307.60 151.04,308.57 C150.58,309.55 149.98,310.58 149.28,311.41 C148.59,312.24 147.71,312.98 146.86,313.57 C146.01,314.16 145.07,314.57 144.18,314.93 C143.29,315.30 142.40,315.54 141.52,315.75 C140.64,315.95 139.76,316.13 138.90,316.17 C138.04,316.22 137.16,316.21 136.37,316.02 C135.58,315.83 134.80,315.49 134.16,315.03 C133.51,314.57 132.96,313.92 132.49,313.26 C132.02,312.59 131.66,311.82 131.34,311.04 C131.02,310.26 130.75,309.44 130.56,308.58 C130.38,307.72 130.23,306.81 130.23,305.88 C130.23,304.94 130.33,303.93 130.57,302.96 C130.81,302.00 131.22,301.00 131.66,300.08 C132.10,299.16 132.67,298.30 133.22,297.44 C133.78,296.59 134.36,295.78 134.98,294.95 C135.60,294.13 136.23,293.27 136.95,292.49 C137.68,291.71 138.48,290.88 139.34,290.28 C140.20,289.67 141.18,289.15 142.10,288.88 C143.02,288.61 144.00,288.55 144.87,288.64 C145.74,288.73 146.56,289.04 147.31,289.39 C148.05,289.74 148.73,290.22 149.34,290.73 Z" stroke="#6c6c6c" stroke-width="0.4" fill="rgba(0,0,0,0.06)"/>
<path d="M149.02,292.09 C149.48,292.63 149.82,293.27 150.18,293.87 C150.53,294.47 150.86,295.05 151.17,295.67 C151.48,296.30 151.83,296.92 152.06,297.63 C152.28,298.34 152.49,299.13 152.52,299.96 C152.55,300.79 152.46,301.71 152.25,302.60 C152.04,303.48 151.66,304.40 151.26,305.26 C150.85,306.12 150.34,306.96 149.81,307.77 C149.28,308.58 148.71,309.37 148.07,310.10 C147.44,310.83 146.74,311.56 146.01,312.15 C145.27,312.74 144.45,313.26 143.65,313.62 C142.85,313.99 142.00,314.20 141.21,314.33 C140.41,314.47 139.63,314.45 138.88,314.41 C138.13,314.38 137.40,314.28 136.70,314.10 C136.00,313.93 135.28,313.73 134.67,313.37 C134.05,313.02 133.45,312.57 133.02,311.98 C132.59,311.40 132.27,310.65 132.08,309.88 C131.89,309.12 131.88,308.23 131.89,307.39 C131.90,306.56 132.04,305.71 132.14,304.88 C132.24,304.05 132.36,303.25 132.52,302.41 C132.67,301.57 132.82,300.71 133.09,299.84 C133.36,298.98 133.70,298.05 134.15,297.21 C134.61,296.36 135.20,295.51 135.83,294.77 C136.46,294.03 137.21,293.36 137.96,292.76 C138.71,292.17 139.52,291.64 140.33,291.21 C141.14,290.78 142.00,290.40 142.83,290.18 C143.65,289.96 144.53,289.84 145.29,289.91 C146.06,289.98 146.81,290.25 147.43,290.61 C148.05,290.97 148.57,291.54 149.02,292.09 Z" stroke="#5e5e5e" stroke-width="0.45" fill="rgba(0,0,0,0.06)"/>
<path d="M148.97,292.88 C149.39,293.32 149.70,293.92 149.95,294.49 C150.21,295.06 150.36,295.71 150.52,296.33 C150.69,296.94 150.83,297.55 150.97,298.19 C151.10,298.83 151.27,299.47 151.33,300.18 C151.39,300.90 151.44,301.68 151.32,302.48 C151.21,303.27 150.97,304.15 150.62,304.95 C150.27,305.76 149.76,306.57 149.22,307.30 C148.68,308.02 148.03,308.70 147.38,309.30 C146.73,309.91 146.03,310.46 145.33,310.93 C144.63,311.40 143.89,311.83 143.16,312.12 C142.44,312.40 141.68,312.60 140.99,312.66 C140.30,312.73 139.62,312.64 139.01,312.50 C138.40,312.37 137.85,312.10 137.32,311.85 C136.78,311.60 136.29,311.32 135.80,311.01 C135.30,310.70 134.79,310.41 134.35,310.00 C133.91,309.60 133.46,309.14 133.16,308.58 C132.86,308.01 132.64,307.32 132.56,306.61 C132.49,305.90 132.57,305.08 132.70,304.30 C132.83,303.52 133.10,302.71 133.37,301.93 C133.63,301.15 133.95,300.39 134.30,299.62 C134.66,298.85 135.03,298.07 135.50,297.33 C135.96,296.59 136.49,295.83 137.08,295.19 C137.68,294.54 138.38,293.94 139.07,293.47 C139.76,292.99 140.52,292.63 141.24,292.34 C141.96,292.05 142.70,291.85 143.41,291.71 C144.12,291.58 144.84,291.49 145.51,291.51 C146.18,291.53 146.86,291.62 147.44,291.85 C148.01,292.08 148.55,292.44 148.97,292.88 Z" stroke="#4e4e4e" stroke-width="0.45" fill="rgba(0,0,0,0.06)"/>
<path d="M148.48,293.83 C148.98,294.02 149.52,294.22 149.95,294.56 C150.37,294.91 150.79,295.35 151.03,295.89 C151.27,296.43 151.39,297.11 151.39,297.80 C151.38,298.48 151.21,299.26 151.01,299.98 C150.81,300.70 150.49,301.43 150.18,302.13 C149.86,302.82 149.51,303.49 149.13,304.14 C148.75,304.80 148.35,305.45 147.90,306.04 C147.44,306.64 146.93,307.22 146.39,307.72 C145.86,308.22 145.26,308.66 144.67,309.03 C144.09,309.41 143.48,309.70 142.88,309.97 C142.29,310.24 141.69,310.47 141.08,310.66 C140.48,310.84 139.86,311.02 139.26,311.08 C138.67,311.14 138.05,311.15 137.52,311.01 C136.99,310.87 136.49,310.61 136.10,310.27 C135.70,309.93 135.39,309.44 135.13,308.97 C134.87,308.49 134.69,307.94 134.51,307.40 C134.34,306.85 134.18,306.30 134.08,305.70 C133.97,305.10 133.87,304.47 133.89,303.80 C133.92,303.12 134.01,302.37 134.23,301.66 C134.46,300.95 134.82,300.18 135.23,299.51 C135.64,298.83 136.18,298.19 136.71,297.61 C137.24,297.03 137.82,296.52 138.39,296.05 C138.96,295.57 139.54,295.14 140.12,294.76 C140.71,294.38 141.32,294.03 141.91,293.78 C142.51,293.53 143.12,293.35 143.70,293.25 C144.28,293.15 144.84,293.16 145.38,293.19 C145.92,293.22 146.43,293.31 146.94,293.42 C147.46,293.52 147.98,293.63 148.48,293.83 Z" stroke="#404040" stroke-width="0.5" fill="rgba(0,0,0,0.06)"/>
<path d="M148.18,294.46 C148.50,294.74 148.74,295.15 148.92,295.57 C149.10,296.00 149.17,296.51 149.24,296.99 C149.31,297.48 149.33,297.97 149.35,298.48 C149.37,298.99 149.40,299.49 149.37,300.03 C149.34,300.57 149.31,301.15 149.17,301.74 C149.03,302.33 148.82,302.98 148.53,303.58 C148.23,304.19 147.83,304.80 147.41,305.36 C146.98,305.91 146.48,306.43 145.98,306.90 C145.47,307.37 144.93,307.80 144.39,308.16 C143.84,308.53 143.27,308.87 142.72,309.10 C142.17,309.33 141.60,309.49 141.09,309.54 C140.57,309.59 140.08,309.52 139.64,309.40 C139.21,309.28 138.85,309.04 138.49,308.82 C138.14,308.60 137.84,308.34 137.53,308.10 C137.21,307.85 136.89,307.62 136.59,307.33 C136.29,307.04 135.96,306.75 135.74,306.36 C135.52,305.97 135.33,305.50 135.26,304.99 C135.19,304.48 135.23,303.87 135.34,303.28 C135.45,302.69 135.67,302.06 135.92,301.46 C136.16,300.85 136.47,300.25 136.81,299.66 C137.14,299.08 137.50,298.49 137.92,297.94 C138.33,297.39 138.79,296.84 139.28,296.38 C139.76,295.92 140.31,295.50 140.85,295.17 C141.38,294.84 141.95,294.60 142.48,294.40 C143.02,294.20 143.54,294.07 144.06,293.97 C144.57,293.87 145.08,293.79 145.57,293.77 C146.06,293.75 146.56,293.75 147.00,293.87 C147.43,293.98 147.86,294.17 148.18,294.46 Z" stroke="#2a2a2a" stroke-width="0.7" fill="rgba(0,0,0,0.10)"/>
<path d="M147.62,295.23 C147.92,295.42 148.21,295.64 148.43,295.94 C148.65,296.23 148.84,296.58 148.92,296.99 C149.01,297.40 149.01,297.89 148.93,298.38 C148.85,298.86 148.66,299.41 148.46,299.90 C148.27,300.40 147.99,300.89 147.75,301.36 C147.50,301.82 147.25,302.26 146.99,302.71 C146.74,303.16 146.49,303.61 146.20,304.06 C145.91,304.50 145.59,304.98 145.23,305.39 C144.87,305.81 144.46,306.23 144.04,306.57 C143.62,306.91 143.16,307.20 142.72,307.44 C142.27,307.69 141.81,307.87 141.37,308.02 C140.92,308.16 140.47,308.27 140.04,308.31 C139.62,308.34 139.19,308.34 138.83,308.23 C138.48,308.12 138.15,307.93 137.90,307.67 C137.66,307.41 137.49,307.04 137.36,306.67 C137.24,306.31 137.20,305.88 137.15,305.46 C137.11,305.05 137.10,304.64 137.10,304.21 C137.11,303.78 137.10,303.35 137.17,302.89 C137.23,302.43 137.32,301.93 137.49,301.45 C137.66,300.96 137.91,300.44 138.20,299.96 C138.49,299.49 138.86,299.03 139.23,298.61 C139.60,298.19 140.00,297.82 140.40,297.46 C140.80,297.10 141.20,296.76 141.61,296.44 C142.02,296.12 142.45,295.80 142.88,295.54 C143.32,295.28 143.78,295.04 144.21,294.89 C144.65,294.74 145.09,294.66 145.50,294.64 C145.90,294.62 146.28,294.69 146.64,294.79 C146.99,294.88 147.32,295.03 147.62,295.23 Z" stroke="#1c1c1c" stroke-width="0.8" fill="rgba(0,0,0,0.10)"/>
<path d="M146.71,296.33 C146.88,296.51 147.00,296.75 147.10,297.00 C147.20,297.25 147.27,297.53 147.32,297.82 C147.37,298.11 147.41,298.41 147.41,298.74 C147.40,299.06 147.38,299.42 147.29,299.79 C147.20,300.16 147.05,300.56 146.87,300.95 C146.68,301.33 146.43,301.72 146.18,302.09 C145.93,302.45 145.64,302.79 145.36,303.12 C145.08,303.46 144.80,303.77 144.51,304.09 C144.22,304.41 143.92,304.75 143.60,305.05 C143.28,305.36 142.93,305.68 142.58,305.92 C142.23,306.17 141.85,306.38 141.51,306.51 C141.17,306.64 140.82,306.70 140.52,306.71 C140.21,306.72 139.93,306.65 139.68,306.56 C139.43,306.47 139.21,306.34 139.02,306.17 C138.83,306.00 138.67,305.79 138.56,305.53 C138.46,305.28 138.40,304.97 138.39,304.65 C138.39,304.32 138.45,303.95 138.53,303.59 C138.61,303.23 138.74,302.86 138.86,302.50 C138.98,302.14 139.10,301.80 139.24,301.44 C139.38,301.07 139.50,300.71 139.67,300.33 C139.85,299.95 140.04,299.54 140.28,299.15 C140.52,298.77 140.82,298.37 141.14,298.03 C141.45,297.70 141.81,297.39 142.16,297.14 C142.51,296.88 142.87,296.69 143.22,296.51 C143.56,296.34 143.90,296.20 144.24,296.09 C144.57,295.99 144.90,295.90 145.21,295.87 C145.51,295.84 145.81,295.85 146.06,295.93 C146.31,296.00 146.53,296.15 146.71,296.33 Z" stroke="#222" stroke-width="0.7" fill="none"/>
<path d="M145.81,297.29 C145.87,297.33 145.93,297.37 145.97,297.42 C146.01,297.48 146.04,297.55 146.06,297.63 C146.07,297.70 146.08,297.79 146.07,297.89 C146.06,297.98 146.04,298.08 146.01,298.18 C145.98,298.28 145.94,298.39 145.89,298.49 C145.84,298.59 145.78,298.70 145.72,298.80 C145.65,298.90 145.57,298.99 145.49,299.08 C145.41,299.17 145.33,299.25 145.24,299.33 C145.15,299.40 145.06,299.46 144.97,299.52 C144.88,299.58 144.79,299.63 144.70,299.67 C144.61,299.72 144.52,299.76 144.43,299.79 C144.35,299.82 144.25,299.85 144.17,299.86 C144.09,299.86 144.01,299.86 143.94,299.84 C143.87,299.82 143.81,299.78 143.77,299.73 C143.72,299.69 143.68,299.63 143.65,299.56 C143.61,299.50 143.59,299.43 143.58,299.35 C143.56,299.28 143.55,299.19 143.56,299.10 C143.56,299.01 143.57,298.92 143.60,298.82 C143.63,298.72 143.67,298.61 143.72,298.51 C143.76,298.41 143.83,298.30 143.89,298.21 C143.96,298.11 144.03,298.01 144.11,297.92 C144.19,297.83 144.27,297.74 144.35,297.66 C144.44,297.58 144.53,297.50 144.62,297.44 C144.72,297.38 144.81,297.32 144.90,297.28 C144.99,297.25 145.08,297.22 145.17,297.21 C145.25,297.19 145.33,297.19 145.40,297.19 C145.48,297.20 145.55,297.21 145.62,297.22 C145.69,297.24 145.75,297.26 145.81,297.29 Z" stroke="#555" stroke-width="0.5" fill="#f4f4f4"/>
<path d="M142.01,302.61 C142.06,302.65 142.10,302.70 142.13,302.76 C142.16,302.81 142.18,302.88 142.19,302.94 C142.21,303.01 142.22,303.09 142.21,303.17 C142.21,303.25 142.19,303.34 142.16,303.43 C142.14,303.52 142.09,303.61 142.05,303.70 C142.00,303.79 141.94,303.87 141.88,303.96 C141.82,304.04 141.75,304.12 141.69,304.19 C141.62,304.27 141.55,304.34 141.48,304.41 C141.41,304.48 141.34,304.55 141.26,304.61 C141.18,304.67 141.10,304.73 141.02,304.77 C140.94,304.81 140.85,304.85 140.78,304.87 C140.70,304.89 140.62,304.91 140.55,304.91 C140.48,304.91 140.41,304.90 140.35,304.88 C140.28,304.86 140.23,304.84 140.18,304.80 C140.13,304.76 140.09,304.71 140.06,304.66 C140.03,304.60 140.01,304.53 140.01,304.45 C140.00,304.38 140.01,304.30 140.02,304.22 C140.03,304.13 140.05,304.05 140.08,303.96 C140.11,303.88 140.14,303.79 140.18,303.70 C140.21,303.62 140.26,303.53 140.31,303.44 C140.36,303.35 140.42,303.26 140.49,303.18 C140.55,303.10 140.63,303.03 140.70,302.96 C140.78,302.89 140.86,302.83 140.94,302.78 C141.02,302.73 141.10,302.69 141.18,302.65 C141.26,302.61 141.34,302.58 141.42,302.55 C141.50,302.53 141.57,302.51 141.65,302.51 C141.72,302.50 141.79,302.51 141.85,302.53 C141.91,302.54 141.97,302.57 142.01,302.61 Z" stroke="#555" stroke-width="0.5" fill="#f4f4f4"/>
<path d="M143.67,317.00 C143.69,317.11 143.68,317.24 143.64,317.35 C143.59,317.46 143.50,317.57 143.40,317.67 C143.29,317.76 143.16,317.85 143.03,317.93 C142.90,318.02 142.76,318.09 142.61,318.17 C142.47,318.24 142.32,318.32 142.15,318.38 C141.99,318.45 141.80,318.51 141.61,318.54 C141.42,318.58 141.20,318.59 141.00,318.59 C140.80,318.58 140.59,318.54 140.41,318.49 C140.23,318.44 140.06,318.37 139.91,318.31 C139.75,318.25 139.61,318.17 139.48,318.10 C139.34,318.03 139.21,317.96 139.09,317.88 C138.97,317.80 138.86,317.71 138.78,317.62 C138.69,317.52 138.63,317.42 138.58,317.32 C138.54,317.22 138.52,317.11 138.50,317.00 C138.48,316.89 138.48,316.78 138.49,316.67 C138.49,316.56 138.50,316.43 138.55,316.32 C138.60,316.20 138.66,316.08 138.77,315.97 C138.88,315.87 139.04,315.77 139.21,315.70 C139.38,315.64 139.60,315.59 139.80,315.56 C140.00,315.54 140.22,315.54 140.42,315.54 C140.62,315.54 140.81,315.55 141.00,315.57 C141.19,315.58 141.37,315.59 141.55,315.61 C141.73,315.63 141.91,315.66 142.08,315.70 C142.25,315.74 142.42,315.80 142.57,315.87 C142.71,315.93 142.84,316.02 142.95,316.10 C143.07,316.19 143.17,316.28 143.26,316.37 C143.35,316.47 143.44,316.56 143.51,316.67 C143.58,316.77 143.65,316.89 143.67,317.00 Z" stroke="#6c6c6c" stroke-width="0.45" fill="none"/>
<path d="M145.19,317.20 C145.17,317.40 145.09,317.60 145.00,317.78 C144.91,317.97 144.79,318.15 144.66,318.33 C144.53,318.51 144.40,318.69 144.24,318.87 C144.07,319.05 143.91,319.24 143.68,319.40 C143.46,319.56 143.19,319.73 142.89,319.85 C142.59,319.96 142.23,320.04 141.88,320.08 C141.53,320.12 141.15,320.10 140.80,320.08 C140.45,320.05 140.11,319.98 139.78,319.92 C139.45,319.86 139.13,319.80 138.81,319.72 C138.49,319.63 138.16,319.55 137.87,319.44 C137.58,319.32 137.28,319.18 137.06,319.02 C136.83,318.85 136.65,318.65 136.53,318.45 C136.40,318.25 136.35,318.03 136.32,317.82 C136.28,317.61 136.30,317.40 136.32,317.20 C136.35,317.00 136.38,316.79 136.46,316.60 C136.54,316.40 136.63,316.20 136.78,316.02 C136.93,315.84 137.12,315.67 137.34,315.52 C137.56,315.37 137.83,315.25 138.09,315.13 C138.36,315.02 138.64,314.92 138.92,314.82 C139.20,314.72 139.48,314.62 139.80,314.52 C140.11,314.43 140.45,314.33 140.80,314.27 C141.15,314.22 141.56,314.18 141.92,314.20 C142.29,314.23 142.68,314.31 143.00,314.42 C143.32,314.53 143.61,314.71 143.84,314.88 C144.08,315.05 144.26,315.25 144.43,315.44 C144.60,315.63 144.74,315.82 144.85,316.01 C144.97,316.21 145.07,316.40 145.13,316.60 C145.18,316.80 145.21,317.00 145.19,317.20 Z" stroke="#5e5e5e" stroke-width="0.45" fill="none"/>
<path d="M147.85,317.40 C147.91,317.73 147.93,318.08 147.82,318.40 C147.72,318.73 147.49,319.06 147.21,319.34 C146.92,319.61 146.51,319.85 146.12,320.07 C145.72,320.28 145.27,320.44 144.85,320.61 C144.42,320.78 144.01,320.93 143.57,321.08 C143.13,321.22 142.68,321.38 142.21,321.47 C141.73,321.57 141.20,321.66 140.70,321.67 C140.20,321.67 139.66,321.62 139.18,321.52 C138.70,321.42 138.24,321.25 137.83,321.08 C137.41,320.91 137.05,320.71 136.68,320.51 C136.32,320.31 135.97,320.11 135.65,319.89 C135.32,319.67 134.99,319.44 134.73,319.18 C134.47,318.92 134.24,318.63 134.11,318.33 C133.97,318.03 133.91,317.71 133.89,317.40 C133.87,317.09 133.93,316.77 134.01,316.46 C134.08,316.14 134.18,315.82 134.35,315.51 C134.51,315.20 134.69,314.87 134.98,314.58 C135.27,314.30 135.63,314.01 136.06,313.81 C136.50,313.61 137.04,313.46 137.56,313.38 C138.09,313.30 138.67,313.31 139.19,313.33 C139.72,313.34 140.22,313.43 140.70,313.48 C141.18,313.54 141.62,313.61 142.08,313.67 C142.53,313.74 142.99,313.79 143.44,313.89 C143.88,313.99 144.35,314.10 144.76,314.26 C145.17,314.41 145.56,314.62 145.90,314.84 C146.23,315.06 146.52,315.33 146.77,315.59 C147.03,315.86 147.25,316.15 147.43,316.45 C147.61,316.75 147.78,317.07 147.85,317.40 Z" stroke="#5e5e5e" stroke-width="0.45" fill="none"/>
<path d="M149.49,317.60 C149.54,318.01 149.46,318.45 149.29,318.85 C149.13,319.25 148.81,319.63 148.50,320.00 C148.18,320.36 147.79,320.69 147.39,321.02 C146.99,321.35 146.58,321.68 146.10,321.97 C145.61,322.26 145.08,322.55 144.50,322.76 C143.91,322.98 143.24,323.15 142.57,323.24 C141.90,323.34 141.18,323.35 140.50,323.34 C139.82,323.32 139.13,323.24 138.46,323.15 C137.80,323.06 137.13,322.94 136.49,322.78 C135.85,322.62 135.19,322.44 134.63,322.18 C134.07,321.93 133.53,321.60 133.15,321.25 C132.77,320.89 132.52,320.45 132.37,320.04 C132.22,319.62 132.24,319.18 132.24,318.77 C132.24,318.37 132.34,317.98 132.39,317.60 C132.43,317.22 132.45,316.85 132.51,316.47 C132.58,316.08 132.60,315.67 132.75,315.28 C132.91,314.88 133.12,314.46 133.44,314.10 C133.77,313.73 134.22,313.39 134.72,313.09 C135.22,312.80 135.82,312.55 136.43,312.34 C137.04,312.13 137.70,311.95 138.38,311.82 C139.06,311.70 139.79,311.59 140.50,311.58 C141.21,311.57 141.97,311.61 142.65,311.75 C143.32,311.88 143.98,312.13 144.53,312.39 C145.08,312.66 145.53,313.02 145.95,313.35 C146.37,313.67 146.69,314.03 147.04,314.36 C147.39,314.69 147.73,315.00 148.05,315.34 C148.37,315.68 148.74,316.02 148.98,316.40 C149.22,316.77 149.44,317.19 149.49,317.60 Z" stroke="#6c6c6c" stroke-width="0.45" fill="none"/>
<path d="M151.91,317.90 C152.07,318.43 152.23,319.01 152.19,319.57 C152.15,320.13 152.01,320.74 151.65,321.26 C151.30,321.77 150.71,322.28 150.06,322.66 C149.40,323.05 148.52,323.33 147.72,323.56 C146.91,323.78 146.03,323.89 145.21,324.02 C144.40,324.14 143.63,324.22 142.84,324.31 C142.05,324.39 141.29,324.49 140.50,324.52 C139.71,324.54 138.89,324.56 138.10,324.47 C137.31,324.39 136.51,324.23 135.79,324.01 C135.06,323.80 134.38,323.50 133.74,323.19 C133.10,322.89 132.51,322.54 131.94,322.17 C131.38,321.79 130.80,321.40 130.34,320.96 C129.88,320.52 129.43,320.02 129.18,319.51 C128.93,319.00 128.81,318.43 128.84,317.90 C128.88,317.37 129.12,316.82 129.39,316.31 C129.66,315.81 130.07,315.34 130.46,314.88 C130.85,314.42 131.27,313.97 131.74,313.53 C132.21,313.10 132.69,312.64 133.29,312.25 C133.90,311.87 134.60,311.48 135.37,311.24 C136.14,311.00 137.05,310.84 137.90,310.78 C138.76,310.73 139.67,310.82 140.50,310.93 C141.33,311.04 142.11,311.24 142.86,311.43 C143.62,311.61 144.32,311.81 145.02,312.03 C145.72,312.25 146.43,312.47 147.07,312.75 C147.71,313.03 148.35,313.35 148.88,313.72 C149.42,314.09 149.87,314.52 150.26,314.96 C150.65,315.40 150.95,315.88 151.22,316.37 C151.50,316.86 151.75,317.37 151.91,317.90 Z" stroke="#6c6c6c" stroke-width="0.4" fill="none"/>
<path d="M154.23,318.40 C154.10,319.04 153.73,319.67 153.39,320.27 C153.06,320.87 152.66,321.43 152.24,322.00 C151.82,322.56 151.41,323.13 150.87,323.66 C150.33,324.19 149.72,324.74 148.98,325.16 C148.23,325.59 147.32,325.96 146.40,326.19 C145.48,326.43 144.42,326.54 143.44,326.59 C142.45,326.64 141.45,326.57 140.50,326.50 C139.55,326.43 138.62,326.32 137.71,326.18 C136.80,326.04 135.88,325.89 135.01,325.65 C134.15,325.41 133.28,325.12 132.53,324.76 C131.79,324.39 131.11,323.93 130.52,323.46 C129.93,322.99 129.46,322.46 128.98,321.93 C128.51,321.40 128.08,320.85 127.69,320.26 C127.30,319.67 126.87,319.05 126.65,318.40 C126.43,317.75 126.25,317.02 126.37,316.35 C126.49,315.68 126.84,314.96 127.38,314.38 C127.91,313.80 128.76,313.28 129.58,312.86 C130.41,312.44 131.41,312.15 132.33,311.88 C133.24,311.61 134.17,311.42 135.07,311.22 C135.97,311.03 136.84,310.84 137.74,310.71 C138.65,310.59 139.58,310.47 140.50,310.45 C141.42,310.44 142.38,310.50 143.29,310.62 C144.20,310.74 145.09,310.96 145.95,311.20 C146.81,311.43 147.65,311.72 148.48,312.03 C149.31,312.35 150.17,312.69 150.93,313.11 C151.68,313.53 152.48,314.01 153.03,314.56 C153.57,315.11 154.02,315.77 154.22,316.41 C154.42,317.05 154.37,317.76 154.23,318.40 Z" stroke="#7c7c7c" stroke-width="0.4" fill="none"/>
<path d="M138.00,346 C139.20,341.88 139.40,338.50 141.20,338.50 C143.00,338.50 143.20,341.88 144.40,346" stroke="#404040" stroke-width="0.5"/>
<path d="M136.40,346 C137.60,340.23 137.96,335.50 141.20,335.50 C144.44,335.50 144.80,340.23 146.00,346" stroke="#404040" stroke-width="0.5"/>
<path d="M134.80,346 C136.00,338.85 136.52,333.00 141.20,333.00 C145.88,333.00 146.40,338.85 147.60,346" stroke="#4e4e4e" stroke-width="0.5"/>
<path d="M133.20,346 C134.40,337.75 135.08,331.00 141.20,331.00 C147.32,331.00 148.00,337.75 149.20,346" stroke="#4e4e4e" stroke-width="0.45"/>
<path d="M131.40,346 C132.60,336.87 133.46,329.40 141.20,329.40 C148.94,329.40 149.80,336.87 151.00,346" stroke="#5e5e5e" stroke-width="0.45"/>
<path d="M125.5,346 C127,340 129.5,334 131,329" stroke="#6c6c6c" stroke-width="0.45"/>
<path d="M157.5,346 C156.5,340 154.5,335 153.5,329" stroke="#6c6c6c" stroke-width="0.45"/>
<path d="M131.5,346 C134,342.6 150,342.6 152.5,346 Z" fill="#1a1a1a" stroke="#111" stroke-width="0.5"/>
<path d="M128.5,346 C132,340.8 152,340.8 155.5,346" stroke="#303030" stroke-width="0.5"/>
<path d="M78,324.6 C83.94,324.6 83.94,337.4 78,337.4" stroke="#5e5e5e" stroke-width="0.5"/>
<path d="M78,326.1 C82.455,326.1 82.455,335.9 78,335.9" stroke="#4e4e4e" stroke-width="0.5"/>
<path d="M78,327.6 C80.97,327.6 80.97,334.4 78,334.4" stroke="#404040" stroke-width="0.5"/>
<path d="M78,329.2 C79.485,329.2 79.485,332.8 78,332.8" stroke="#4e4e4e" stroke-width="0.5"/>
<path d="M78.0,346 C80.1,340.87 96.9,340.87 99.0,346" stroke="#6c6c6c" stroke-width="0.5"/>
<path d="M80.5,346 C82.1,342.085 94.9,342.085 96.5,346" stroke="#5e5e5e" stroke-width="0.5"/>
<path d="M83.0,346 C84.1,343.3 92.9,343.3 94.0,346" stroke="#4e4e4e" stroke-width="0.5"/>
<path d="M85.5,346 C86.1,344.38 90.9,344.38 91.5,346" stroke="#4e4e4e" stroke-width="0.5"/>
<path d="M78,342.3 C80.5,342.3 82.4,343.8 82.8,346" stroke="#333" stroke-width="0.6"/>
<path d="M78,340.6 C81.5,340.6 84.3,343 84.8,346" stroke="#4e4e4e" stroke-width="0.5"/>
<ellipse cx="79.0" cy="272.6" rx="1.0" ry="1.6" stroke="#4e4e4e" stroke-width="0.5"/>
</g>
<g fill="#aaa">
<rect x="100.8" y="272.2" width="0.6" height="0.6"/>
<rect x="114.9" y="276.2" width="0.6" height="0.6"/>
<rect x="85.9" y="295.7" width="0.6" height="0.6"/>
<rect x="160.8" y="327.2" width="0.6" height="0.6"/>
<rect x="147.3" y="281.5" width="0.6" height="0.6"/>
<rect x="127.2" y="285.9" width="0.6" height="0.6"/>
<rect x="95.2" y="272.4" width="0.6" height="0.6"/>
<rect x="98.9" y="337.3" width="0.6" height="0.6"/>
<rect x="152.9" y="327.7" width="0.6" height="0.6"/>
<rect x="150.4" y="279.3" width="0.6" height="0.6"/>
<rect x="107.3" y="313.5" width="0.6" height="0.6"/>
<rect x="144.4" y="331.5" width="0.6" height="0.6"/>
<rect x="157.4" y="270.9" width="0.6" height="0.6"/>
<rect x="133.3" y="317.1" width="0.6" height="0.6"/>
<rect x="124.5" y="278.0" width="0.6" height="0.6"/>
<rect x="121.7" y="271.1" width="0.6" height="0.6"/>
<rect x="162.2" y="332.4" width="0.6" height="0.6"/>
<rect x="128.2" y="287.7" width="0.6" height="0.6"/>
<rect x="160.0" y="309.2" width="0.6" height="0.6"/>
<rect x="157.6" y="331.0" width="0.6" height="0.6"/>
<rect x="124.7" y="296.7" width="0.6" height="0.6"/>
<rect x="132.7" y="298.1" width="0.6" height="0.6"/>
<rect x="94.2" y="288.1" width="0.6" height="0.6"/>
<rect x="151.5" y="267.4" width="0.6" height="0.6"/>
<rect x="84.1" y="313.5" width="0.6" height="0.6"/>
<rect x="104.7" y="306.2" width="0.6" height="0.6"/>
<rect x="121.5" y="291.1" width="0.6" height="0.6"/>
<rect x="167.8" y="279.5" width="0.6" height="0.6"/>
<rect x="116.3" y="280.0" width="0.6" height="0.6"/>
<rect x="135.7" y="285.8" width="0.6" height="0.6"/>
<rect x="111.3" y="323.0" width="0.6" height="0.6"/>
<rect x="108.2" y="308.1" width="0.6" height="0.6"/>
<rect x="159.6" y="272.0" width="0.6" height="0.6"/>
<rect x="85.4" y="282.1" width="0.6" height="0.6"/>
<rect x="147.3" y="312.6" width="0.6" height="0.6"/>
<rect x="100.9" y="290.2" width="0.6" height="0.6"/>
<rect x="95.6" y="300.3" width="0.6" height="0.6"/>
<rect x="83.8" y="319.1" width="0.6" height="0.6"/>
<rect x="158.8" y="339.4" width="0.6" height="0.6"/>
<rect x="144.7" y="339.8" width="0.6" height="0.6"/>
<rect x="81.6" y="286.8" width="0.6" height="0.6"/>
<rect x="165.0" y="325.2" width="0.6" height="0.6"/>
<rect x="116.1" y="338.5" width="0.6" height="0.6"/>
<rect x="134.6" y="328.6" width="0.6" height="0.6"/>
<rect x="105.8" y="279.1" width="0.6" height="0.6"/>
<rect x="119.1" y="274.8" width="0.6" height="0.6"/>
<rect x="113.6" y="340.0" width="0.6" height="0.6"/>
<rect x="109.2" y="264.7" width="0.6" height="0.6"/>
<rect x="83.9" y="277.4" width="0.6" height="0.6"/>
<rect x="149.0" y="292.7" width="0.6" height="0.6"/>
<rect x="105.5" y="271.7" width="0.6" height="0.6"/>
<rect x="166.4" y="297.5" width="0.6" height="0.6"/>
<rect x="98.3" y="268.7" width="0.6" height="0.6"/>
<rect x="84.9" y="277.3" width="0.6" height="0.6"/>
<rect x="139.6" y="275.8" width="0.6" height="0.6"/>
<rect x="83.6" y="302.8" width="0.6" height="0.6"/>
<rect x="101.9" y="342.8" width="0.6" height="0.6"/>
<rect x="90.8" y="305.8" width="0.6" height="0.6"/>
<rect x="148.1" y="296.3" width="0.6" height="0.6"/>
<rect x="166.9" y="301.7" width="0.6" height="0.6"/>
<rect x="101.3" y="296.4" width="0.6" height="0.6"/>
<rect x="83.2" y="297.3" width="0.6" height="0.6"/>
<rect x="101.9" y="334.3" width="0.6" height="0.6"/>
<rect x="153.1" y="303.4" width="0.6" height="0.6"/>
<rect x="82.8" y="284.1" width="0.6" height="0.6"/>
<rect x="101.3" y="280.4" width="0.6" height="0.6"/>
<rect x="100.4" y="332.7" width="0.6" height="0.6"/>
<rect x="92.5" y="268.1" width="0.6" height="0.6"/>
<rect x="161.7" y="308.7" width="0.6" height="0.6"/>
<rect x="167.2" y="295.8" width="0.6" height="0.6"/>
</g>
<rect x="124.50" y="328.50" width="36.00" height="18.00" fill="none" stroke="#111" stroke-width="1"/>
<line x1="136.5" y1="284.3" x2="174.2" y2="284.3" stroke="#2a2a2a" stroke-width="1.1"/>
<path d="M178.2,284.3 L172.2,281.40000000000003 L172.2,287.2 Z" fill="#000"/>
<line x1="158.5" y1="302.2" x2="174.2" y2="302.2" stroke="#2a2a2a" stroke-width="1.1"/>
<path d="M178.2,302.2 L172.2,299.3 L172.2,305.09999999999997 Z" fill="#000"/>
<line x1="160.5" y1="338.2" x2="298" y2="338.2" stroke="#222" stroke-width="1.1"/>
<path d="M302.7,338.2 L296.7,335.3 L296.7,341.1 Z" fill="#000"/>
<text transform="translate(73.5,304) rotate(-90)" font-size="10" text-anchor="middle" font-family='"Liberation Serif", serif' fill="#111">CD1a</text>
<text x="86" y="359.3" font-size="10" text-anchor="start" font-family='"Liberation Serif", serif' fill="#111"   stroke="#111" stroke-width="0.22">CD7</text>
<text x="180.5" y="286.6" font-size="9.6" text-anchor="start" font-family='"Liberation Serif", serif' fill="#111"  textLength="79.5" lengthAdjust="spacingAndGlyphs" stroke="#111" stroke-width="0.22">CD34<tspan font-size="5.76" dy="-2.21">-</tspan><tspan dy="2.21" font-size="1">&#8203;</tspan>CD7<tspan font-size="5.76" dy="-2.21">+</tspan><tspan dy="2.21" font-size="1">&#8203;</tspan>CD1a<tspan font-size="5.76" dy="-2.21">++</tspan><tspan dy="2.21" font-size="1">&#8203;</tspan></text>
<text x="180.5" y="305.9" font-size="9.6" text-anchor="start" font-family='"Liberation Serif", serif' fill="#111"  textLength="79.7" lengthAdjust="spacingAndGlyphs" stroke="#111" stroke-width="0.22">CD34<tspan font-size="5.76" dy="-2.21">-</tspan><tspan dy="2.21" font-size="1">&#8203;</tspan>CD7<tspan font-size="5.76" dy="-2.21">++</tspan><tspan dy="2.21" font-size="1">&#8203;</tspan>CD1a<tspan font-size="5.76" dy="-2.21">+</tspan><tspan dy="2.21" font-size="1">&#8203;</tspan></text>
<text x="192" y="347.4" font-size="9.6" text-anchor="start" font-family='"Liberation Serif", serif' fill="#111"  textLength="84" lengthAdjust="spacingAndGlyphs" stroke="#111" stroke-width="0.22">(CD7<tspan font-size="5.76" dy="-2.21">++</tspan><tspan dy="2.21" font-size="1">&#8203;</tspan>CD1a<tspan font-size="5.76" dy="-2.21">-</tspan><tspan dy="2.21" font-size="1">&#8203;</tspan>-gated)</text>
<rect x="265.50" y="277.60" width="13.60" height="10.60" fill="#fff" stroke="#222" stroke-width="0.9"/>
<line x1="273.5" y1="278" x2="273.5" y2="288" stroke="#333" stroke-width="0.8" stroke-dasharray="0.9 0.9"/>
<line x1="266" y1="283.2" x2="279" y2="283.2" stroke="#333" stroke-width="0.8" stroke-dasharray="0.9 0.9"/>
<clipPath id="c1"><rect x="264.9" y="296.9" width="13.6" height="10.6"/></clipPath>
<rect x="264.90" y="296.90" width="13.60" height="10.60" fill="#fff"/>
<g clip-path="url(#c1)" stroke="#000" stroke-width="2.0">
<line x1="206.20" y1="294.90" x2="224.45" y2="309.50"/>
<line x1="213.60" y1="294.90" x2="231.85" y2="309.50"/>
<line x1="221.00" y1="294.90" x2="239.25" y2="309.50"/>
<line x1="228.40" y1="294.90" x2="246.65" y2="309.50"/>
<line x1="235.80" y1="294.90" x2="254.05" y2="309.50"/>
<line x1="243.20" y1="294.90" x2="261.45" y2="309.50"/>
<line x1="250.60" y1="294.90" x2="268.85" y2="309.50"/>
<line x1="258.00" y1="294.90" x2="276.25" y2="309.50"/>
<line x1="265.40" y1="294.90" x2="283.65" y2="309.50"/>
<line x1="272.80" y1="294.90" x2="291.05" y2="309.50"/>
<line x1="280.20" y1="294.90" x2="298.45" y2="309.50"/>
<line x1="287.60" y1="294.90" x2="305.85" y2="309.50"/>
<line x1="295.00" y1="294.90" x2="313.25" y2="309.50"/>
<line x1="302.40" y1="294.90" x2="320.65" y2="309.50"/>
<line x1="309.80" y1="294.90" x2="328.05" y2="309.50"/>
<line x1="317.20" y1="294.90" x2="335.45" y2="309.50"/>
<line x1="324.60" y1="294.90" x2="342.85" y2="309.50"/>
<line x1="332.00" y1="294.90" x2="350.25" y2="309.50"/>
<line x1="339.40" y1="294.90" x2="357.65" y2="309.50"/>
<line x1="346.80" y1="294.90" x2="365.05" y2="309.50"/>
</g>
<rect x="264.90" y="296.90" width="13.60" height="10.60" fill="none" stroke="#000" stroke-width="0.9"/>
<rect x="313.50" y="264.30" width="90.50" height="82.00" fill="none" stroke="#555" stroke-width="0.9"/>
<line x1="313.3" y1="264" x2="313.3" y2="346.5" stroke="#222" stroke-width="1.2"/>
<text transform="translate(309.3,303) rotate(-90)" font-size="10" text-anchor="middle" font-family='"Liberation Serif", serif' fill="#111">RCN</text>
<text x="321" y="359.3" font-size="10" text-anchor="start" font-family='"Liberation Serif", serif' fill="#111"   stroke="#111" stroke-width="0.22">CD34</text>
<polyline fill="none" stroke="#333" stroke-width="0.9" stroke-linejoin="round" points="313.8,345.5 313.9,338.8 315.8,334 317.3,335 318.7,331.2 320,326.3 321.2,325.4 322.5,317.7 323.8,314.8 325.4,308.1 327.3,296.5 328.7,283 329.6,276.3 330.8,284 331.7,278.3 333.5,279.2 334.6,287 335.8,298 336.9,308 338.8,318.7 340.8,326.3 342.7,328.3 344.2,332.1 346.5,331.5 348.5,334 350.4,332.7 352.3,336 355.2,337 357.1,338.5 360,337.9 361.9,339.2 364.2,337.3 366.7,339.8 369.2,337 371.2,338.8 373.5,342.7 376.3,345.2 379.2,346.2 403,346.3"/>
<line x1="319.3" y1="271" x2="349.5" y2="271" stroke="#333" stroke-width="1.2"/>
<line x1="331.8" y1="278" x2="331.8" y2="267.5" stroke="#333" stroke-width="1"/>
<line x1="331.3" y1="267.3" x2="407" y2="267.3" stroke="#222" stroke-width="1.2"/>
<path d="M411.5,267.3 L405.5,264.4 L405.5,270.2 Z" fill="#000"/>
<line x1="356" y1="331.1" x2="386" y2="331.1" stroke="#333" stroke-width="1.2"/>
<line x1="367.5" y1="331" x2="367.5" y2="324.5" stroke="#222" stroke-width="1.1"/>
<line x1="367" y1="325" x2="407" y2="325" stroke="#222" stroke-width="1.2"/>
<path d="M411.5,325 L405.5,322.1 L405.5,327.9 Z" fill="#000"/>
<text x="413.8" y="271" font-size="9.6" text-anchor="start" font-family='"Liberation Serif", serif' fill="#111"  textLength="78.4" lengthAdjust="spacingAndGlyphs" stroke="#111" stroke-width="0.22">CD34<tspan font-size="5.76" dy="-2.21">-</tspan><tspan dy="2.21" font-size="1">&#8203;</tspan>CD7<tspan font-size="5.76" dy="-2.21">++</tspan><tspan dy="2.21" font-size="1">&#8203;</tspan>CD1a<tspan font-size="5.76" dy="-2.21">-</tspan><tspan dy="2.21" font-size="1">&#8203;</tspan></text>
<text x="413.8" y="329.4" font-size="9.6" text-anchor="start" font-family='"Liberation Serif", serif' fill="#111"  textLength="79.2" lengthAdjust="spacingAndGlyphs" stroke="#111" stroke-width="0.22">CD34<tspan font-size="5.76" dy="-2.21">+</tspan><tspan dy="2.21" font-size="1">&#8203;</tspan>CD7<tspan font-size="5.76" dy="-2.21">++</tspan><tspan dy="2.21" font-size="1">&#8203;</tspan>CD1a<tspan font-size="5.76" dy="-2.21">-</tspan><tspan dy="2.21" font-size="1">&#8203;</tspan></text>
<rect x="495.30" y="261.50" width="13.70" height="10.90" fill="#909090" stroke="#3a3a3a" stroke-width="0.9"/>
<clipPath id="c2"><rect x="495.3" y="319.6" width="13.7" height="10.8"/></clipPath>
<rect x="495.30" y="319.60" width="13.70" height="10.80" fill="#fff"/>
<g clip-path="url(#c2)" stroke="#000" stroke-width="2.2">
<line x1="438.60" y1="332.40" x2="457.10" y2="317.60"/>
<line x1="446.00" y1="332.40" x2="464.50" y2="317.60"/>
<line x1="453.40" y1="332.40" x2="471.90" y2="317.60"/>
<line x1="460.80" y1="332.40" x2="479.30" y2="317.60"/>
<line x1="468.20" y1="332.40" x2="486.70" y2="317.60"/>
<line x1="475.60" y1="332.40" x2="494.10" y2="317.60"/>
<line x1="483.00" y1="332.40" x2="501.50" y2="317.60"/>
<line x1="490.40" y1="332.40" x2="508.90" y2="317.60"/>
<line x1="497.80" y1="332.40" x2="516.30" y2="317.60"/>
<line x1="505.20" y1="332.40" x2="523.70" y2="317.60"/>
<line x1="512.60" y1="332.40" x2="531.10" y2="317.60"/>
<line x1="520.00" y1="332.40" x2="538.50" y2="317.60"/>
<line x1="527.40" y1="332.40" x2="545.90" y2="317.60"/>
<line x1="534.80" y1="332.40" x2="553.30" y2="317.60"/>
<line x1="542.20" y1="332.40" x2="560.70" y2="317.60"/>
<line x1="549.60" y1="332.40" x2="568.10" y2="317.60"/>
<line x1="557.00" y1="332.40" x2="575.50" y2="317.60"/>
<line x1="564.40" y1="332.40" x2="582.90" y2="317.60"/>
<line x1="571.80" y1="332.40" x2="590.30" y2="317.60"/>
<line x1="579.20" y1="332.40" x2="597.70" y2="317.60"/>
</g>
<rect x="495.30" y="319.60" width="13.70" height="10.80" fill="none" stroke="#000" stroke-width="0.9"/>
<rect x="90.30" y="461.00" width="17.70" height="23.50" fill="url(#chk)" stroke="#555" stroke-width="0.6"/>
<rect x="108.30" y="400.50" width="17.70" height="84.00" fill="#c6c6c6" stroke="#8f8f8f" stroke-width="0.6"/>
<rect x="126.30" y="461.00" width="17.70" height="23.50" fill="url(#chk)" stroke="#555" stroke-width="0.6"/>
<rect x="144.30" y="469.00" width="17.70" height="15.50" fill="url(#dot)" stroke="#8f8f8f" stroke-width="0.6"/>
<rect x="180.30" y="454.00" width="17.70" height="30.50" fill="#000"/>
<line x1="99.0" y1="460" x2="99.0" y2="462" stroke="#6a6a6a" stroke-width="0.65"/>
<line x1="117.0" y1="395" x2="117.0" y2="405.5" stroke="#6a6a6a" stroke-width="0.65"/>
<line x1="135.0" y1="457.5" x2="135.0" y2="464" stroke="#6a6a6a" stroke-width="0.65"/>
<line x1="153.0" y1="467.7" x2="153.0" y2="470.3" stroke="#6a6a6a" stroke-width="0.65"/>
<line x1="189.0" y1="450.5" x2="189.0" y2="454" stroke="#6a6a6a" stroke-width="0.65"/>
<line x1="76.5" y1="381.7" x2="76.5" y2="485.0" stroke="#7c7c7c" stroke-width="1.0"/>
<line x1="75.8" y1="484.5" x2="230" y2="484.5" stroke="#a6a6a6" stroke-width="1.1"/>
<line x1="74.7" y1="382.0" x2="76.5" y2="382.0" stroke="#b0b0b0" stroke-width="0.8"/>
<text x="72.6" y="383.65" font-size="4.6" text-anchor="end" font-family='"Liberation Sans", sans-serif' fill="#2a2a2a"  stroke="#2a2a2a" stroke-width="0.18">20</text>
<line x1="74.7" y1="392.25" x2="76.5" y2="392.25" stroke="#b0b0b0" stroke-width="0.8"/>
<text x="72.6" y="393.9" font-size="4.6" text-anchor="end" font-family='"Liberation Sans", sans-serif' fill="#2a2a2a"  stroke="#2a2a2a" stroke-width="0.18">18</text>
<line x1="74.7" y1="402.5" x2="76.5" y2="402.5" stroke="#b0b0b0" stroke-width="0.8"/>
<text x="72.6" y="404.15" font-size="4.6" text-anchor="end" font-family='"Liberation Sans", sans-serif' fill="#2a2a2a"  stroke="#2a2a2a" stroke-width="0.18">16</text>
<line x1="74.7" y1="412.75" x2="76.5" y2="412.75" stroke="#b0b0b0" stroke-width="0.8"/>
<text x="72.6" y="414.4" font-size="4.6" text-anchor="end" font-family='"Liberation Sans", sans-serif' fill="#2a2a2a"  stroke="#2a2a2a" stroke-width="0.18">14</text>
<line x1="74.7" y1="423.0" x2="76.5" y2="423.0" stroke="#b0b0b0" stroke-width="0.8"/>
<text x="72.6" y="424.65" font-size="4.6" text-anchor="end" font-family='"Liberation Sans", sans-serif' fill="#2a2a2a"  stroke="#2a2a2a" stroke-width="0.18">12</text>
<line x1="74.7" y1="433.25" x2="76.5" y2="433.25" stroke="#b0b0b0" stroke-width="0.8"/>
<text x="72.6" y="434.9" font-size="4.6" text-anchor="end" font-family='"Liberation Sans", sans-serif' fill="#2a2a2a"  stroke="#2a2a2a" stroke-width="0.18">10</text>
<line x1="74.7" y1="443.5" x2="76.5" y2="443.5" stroke="#b0b0b0" stroke-width="0.8"/>
<text x="72.6" y="445.15" font-size="4.6" text-anchor="end" font-family='"Liberation Sans", sans-serif' fill="#2a2a2a"  stroke="#2a2a2a" stroke-width="0.18">8</text>
<line x1="74.7" y1="453.75" x2="76.5" y2="453.75" stroke="#b0b0b0" stroke-width="0.8"/>
<text x="72.6" y="455.4" font-size="4.6" text-anchor="end" font-family='"Liberation Sans", sans-serif' fill="#2a2a2a"  stroke="#2a2a2a" stroke-width="0.18">6</text>
<line x1="74.7" y1="464.0" x2="76.5" y2="464.0" stroke="#b0b0b0" stroke-width="0.8"/>
<text x="72.6" y="465.65" font-size="4.6" text-anchor="end" font-family='"Liberation Sans", sans-serif' fill="#2a2a2a"  stroke="#2a2a2a" stroke-width="0.18">4</text>
<line x1="74.7" y1="474.25" x2="76.5" y2="474.25" stroke="#b0b0b0" stroke-width="0.8"/>
<text x="72.6" y="475.9" font-size="4.6" text-anchor="end" font-family='"Liberation Sans", sans-serif' fill="#2a2a2a"  stroke="#2a2a2a" stroke-width="0.18">2</text>
<line x1="74.7" y1="484.5" x2="76.5" y2="484.5" stroke="#b0b0b0" stroke-width="0.8"/>
<text x="72.6" y="486.15" font-size="4.6" text-anchor="end" font-family='"Liberation Sans", sans-serif' fill="#2a2a2a"  stroke="#2a2a2a" stroke-width="0.18">0</text>
<text transform="translate(46.4,432.5) rotate(-90) scale(0.875,1)" font-size="10.3" text-anchor="middle" font-family='"Liberation Serif", serif' fill="#1a1a1a" stroke="#1a1a1a" stroke-width="0.2">Normalized transcript</text>
<text transform="translate(56.9,432.5) rotate(-90) scale(0.875,1)" font-size="10.3" text-anchor="middle" font-family='"Liberation Serif", serif' fill="#1a1a1a" stroke="#1a1a1a" stroke-width="0.2">levels (x10<tspan font-size="6.39" dy="-3.91">-3</tspan><tspan dy="3.91">)</tspan></text>
<rect x="332.50" y="452.30" width="17.70" height="31.50" fill="url(#chk)" stroke="#555" stroke-width="0.6"/>
<rect x="350.50" y="417.00" width="17.70" height="66.80" fill="#c6c6c6" stroke="#8f8f8f" stroke-width="0.6"/>
<rect x="368.50" y="416.50" width="17.70" height="67.30" fill="url(#chk)" stroke="#555" stroke-width="0.6"/>
<rect x="386.50" y="443.50" width="17.70" height="40.30" fill="url(#dot)" stroke="#8f8f8f" stroke-width="0.6"/>
<rect x="422.50" y="480.00" width="17.70" height="3.80" fill="#000"/>
<rect x="440.50" y="483.30" width="17.70" height="0.50" fill="#fff" stroke="#666" stroke-width="0.6"/>
<line x1="341.2" y1="445" x2="341.2" y2="459.5" stroke="#6a6a6a" stroke-width="0.65"/>
<line x1="359.2" y1="410" x2="359.2" y2="424" stroke="#6a6a6a" stroke-width="0.65"/>
<line x1="377.2" y1="394" x2="377.2" y2="439.5" stroke="#6a6a6a" stroke-width="0.65"/>
<line x1="395.2" y1="434" x2="395.2" y2="454" stroke="#6a6a6a" stroke-width="0.65"/>
<line x1="431.2" y1="477" x2="431.2" y2="480" stroke="#6a6a6a" stroke-width="0.65"/>
<line x1="319.3" y1="380.7" x2="319.3" y2="484.3" stroke="#7c7c7c" stroke-width="1.0"/>
<line x1="318.6" y1="483.8" x2="471" y2="483.8" stroke="#a6a6a6" stroke-width="1.1"/>
<line x1="317.5" y1="381.0" x2="319.3" y2="381.0" stroke="#b0b0b0" stroke-width="0.8"/>
<text x="315.40000000000003" y="382.65" font-size="4.6" text-anchor="end" font-family='"Liberation Sans", sans-serif' fill="#2a2a2a"  stroke="#2a2a2a" stroke-width="0.18">1.6</text>
<line x1="317.5" y1="393.85" x2="319.3" y2="393.85" stroke="#b0b0b0" stroke-width="0.8"/>
<text x="315.40000000000003" y="395.5" font-size="4.6" text-anchor="end" font-family='"Liberation Sans", sans-serif' fill="#2a2a2a"  stroke="#2a2a2a" stroke-width="0.18">1.4</text>
<line x1="317.5" y1="406.7" x2="319.3" y2="406.7" stroke="#b0b0b0" stroke-width="0.8"/>
<text x="315.40000000000003" y="408.34999999999997" font-size="4.6" text-anchor="end" font-family='"Liberation Sans", sans-serif' fill="#2a2a2a"  stroke="#2a2a2a" stroke-width="0.18">1.2</text>
<line x1="317.5" y1="419.55" x2="319.3" y2="419.55" stroke="#b0b0b0" stroke-width="0.8"/>
<text x="315.40000000000003" y="421.2" font-size="4.6" text-anchor="end" font-family='"Liberation Sans", sans-serif' fill="#2a2a2a"  stroke="#2a2a2a" stroke-width="0.18">1</text>
<line x1="317.5" y1="432.4" x2="319.3" y2="432.4" stroke="#b0b0b0" stroke-width="0.8"/>
<text x="315.40000000000003" y="434.04999999999995" font-size="4.6" text-anchor="end" font-family='"Liberation Sans", sans-serif' fill="#2a2a2a"  stroke="#2a2a2a" stroke-width="0.18">0.8</text>
<line x1="317.5" y1="445.25" x2="319.3" y2="445.25" stroke="#b0b0b0" stroke-width="0.8"/>
<text x="315.40000000000003" y="446.9" font-size="4.6" text-anchor="end" font-family='"Liberation Sans", sans-serif' fill="#2a2a2a"  stroke="#2a2a2a" stroke-width="0.18">0.6</text>
<line x1="317.5" y1="458.1" x2="319.3" y2="458.1" stroke="#b0b0b0" stroke-width="0.8"/>
<text x="315.40000000000003" y="459.75" font-size="4.6" text-anchor="end" font-family='"Liberation Sans", sans-serif' fill="#2a2a2a"  stroke="#2a2a2a" stroke-width="0.18">0.4</text>
<line x1="317.5" y1="470.95000000000005" x2="319.3" y2="470.95000000000005" stroke="#b0b0b0" stroke-width="0.8"/>
<text x="315.40000000000003" y="472.6" font-size="4.6" text-anchor="end" font-family='"Liberation Sans", sans-serif' fill="#2a2a2a"  stroke="#2a2a2a" stroke-width="0.18">0.2</text>
<line x1="317.5" y1="483.8" x2="319.3" y2="483.8" stroke="#b0b0b0" stroke-width="0.8"/>
<text x="315.40000000000003" y="485.45" font-size="4.6" text-anchor="end" font-family='"Liberation Sans", sans-serif' fill="#2a2a2a"  stroke="#2a2a2a" stroke-width="0.18">0</text>
<text transform="translate(287.9,432) rotate(-90) scale(0.875,1)" font-size="10.3" text-anchor="middle" font-family='"Liberation Serif", serif' fill="#1a1a1a" stroke="#1a1a1a" stroke-width="0.2">Normalized transcript</text>
<text transform="translate(298.4,432) rotate(-90) scale(0.875,1)" font-size="10.3" text-anchor="middle" font-family='"Liberation Serif", serif' fill="#1a1a1a" stroke="#1a1a1a" stroke-width="0.2">levels (x10<tspan font-size="6.39" dy="-3.91">-3</tspan><tspan dy="3.91">)</tspan></text>
<rect x="90.60" y="596.00" width="17.70" height="5.00" fill="url(#chk)" stroke="#555" stroke-width="0.6"/>
<rect x="108.60" y="599.80" width="17.70" height="1.20" fill="#c6c6c6" stroke="#8f8f8f" stroke-width="0.6"/>
<rect x="126.60" y="517.00" width="17.70" height="84.00" fill="url(#chk)" stroke="#555" stroke-width="0.6"/>
<rect x="144.60" y="569.50" width="17.70" height="31.50" fill="url(#dot)" stroke="#8f8f8f" stroke-width="0.6"/>
<rect x="180.60" y="597.00" width="17.70" height="4.00" fill="#000"/>
<rect x="198.60" y="600.60" width="17.70" height="0.40" fill="#fff" stroke="#666" stroke-width="0.6"/>
<line x1="117.3" y1="598.7" x2="117.3" y2="600.8" stroke="#6a6a6a" stroke-width="0.65"/>
<line x1="153.3" y1="568.6" x2="153.3" y2="570.4" stroke="#6a6a6a" stroke-width="0.65"/>
<line x1="76.5" y1="499.2" x2="76.5" y2="601.5" stroke="#7c7c7c" stroke-width="1.0"/>
<line x1="75.8" y1="601" x2="230" y2="601" stroke="#a6a6a6" stroke-width="1.1"/>
<line x1="74.7" y1="499.5" x2="76.5" y2="499.5" stroke="#b0b0b0" stroke-width="0.8"/>
<text x="72.6" y="501.15" font-size="4.6" text-anchor="end" font-family='"Liberation Sans", sans-serif' fill="#2a2a2a"  stroke="#2a2a2a" stroke-width="0.18">16</text>
<line x1="74.7" y1="512.1875" x2="76.5" y2="512.1875" stroke="#b0b0b0" stroke-width="0.8"/>
<text x="72.6" y="513.8375" font-size="4.6" text-anchor="end" font-family='"Liberation Sans", sans-serif' fill="#2a2a2a"  stroke="#2a2a2a" stroke-width="0.18">14</text>
<line x1="74.7" y1="524.875" x2="76.5" y2="524.875" stroke="#b0b0b0" stroke-width="0.8"/>
<text x="72.6" y="526.525" font-size="4.6" text-anchor="end" font-family='"Liberation Sans", sans-serif' fill="#2a2a2a"  stroke="#2a2a2a" stroke-width="0.18">12</text>
<line x1="74.7" y1="537.5625" x2="76.5" y2="537.5625" stroke="#b0b0b0" stroke-width="0.8"/>
<text x="72.6" y="539.2125" font-size="4.6" text-anchor="end" font-family='"Liberation Sans", sans-serif' fill="#2a2a2a"  stroke="#2a2a2a" stroke-width="0.18">10</text>
<line x1="74.7" y1="550.25" x2="76.5" y2="550.25" stroke="#b0b0b0" stroke-width="0.8"/>
<text x="72.6" y="551.9" font-size="4.6" text-anchor="end" font-family='"Liberation Sans", sans-serif' fill="#2a2a2a"  stroke="#2a2a2a" stroke-width="0.18">8</text>
<line x1="74.7" y1="562.9375" x2="76.5" y2="562.9375" stroke="#b0b0b0" stroke-width="0.8"/>
<text x="72.6" y="564.5875" font-size="4.6" text-anchor="end" font-family='"Liberation Sans", sans-serif' fill="#2a2a2a"  stroke="#2a2a2a" stroke-width="0.18">6</text>
<line x1="74.7" y1="575.625" x2="76.5" y2="575.625" stroke="#b0b0b0" stroke-width="0.8"/>
<text x="72.6" y="577.275" font-size="4.6" text-anchor="end" font-family='"Liberation Sans", sans-serif' fill="#2a2a2a"  stroke="#2a2a2a" stroke-width="0.18">4</text>
<line x1="74.7" y1="588.3125" x2="76.5" y2="588.3125" stroke="#b0b0b0" stroke-width="0.8"/>
<text x="72.6" y="589.9625" font-size="4.6" text-anchor="end" font-family='"Liberation Sans", sans-serif' fill="#2a2a2a"  stroke="#2a2a2a" stroke-width="0.18">2</text>
<line x1="74.7" y1="601.0" x2="76.5" y2="601.0" stroke="#b0b0b0" stroke-width="0.8"/>
<text x="72.6" y="602.65" font-size="4.6" text-anchor="end" font-family='"Liberation Sans", sans-serif' fill="#2a2a2a"  stroke="#2a2a2a" stroke-width="0.18">0</text>
<text transform="translate(46.4,550) rotate(-90) scale(0.875,1)" font-size="10.3" text-anchor="middle" font-family='"Liberation Serif", serif' fill="#1a1a1a" stroke="#1a1a1a" stroke-width="0.2">Normalized transcript</text>
<text transform="translate(56.9,550) rotate(-90) scale(0.875,1)" font-size="10.3" text-anchor="middle" font-family='"Liberation Serif", serif' fill="#1a1a1a" stroke="#1a1a1a" stroke-width="0.2">levels (x10<tspan font-size="6.39" dy="-3.91">-3</tspan><tspan dy="3.91">)</tspan></text>
<rect x="332.40" y="580.50" width="17.70" height="18.30" fill="url(#chk)" stroke="#555" stroke-width="0.6"/>
<rect x="350.40" y="587.50" width="17.70" height="11.30" fill="#c6c6c6" stroke="#8f8f8f" stroke-width="0.6"/>
<rect x="368.40" y="517.00" width="17.70" height="81.80" fill="url(#chk)" stroke="#555" stroke-width="0.6"/>
<rect x="386.40" y="567.50" width="17.70" height="31.30" fill="url(#dot)" stroke="#8f8f8f" stroke-width="0.6"/>
<rect x="422.40" y="559.00" width="17.70" height="39.80" fill="#000"/>
<rect x="440.40" y="594.30" width="17.70" height="4.50" fill="#fff" stroke="#666" stroke-width="0.6"/>
<line x1="341.1" y1="579.5" x2="341.1" y2="581.5" stroke="#6a6a6a" stroke-width="0.65"/>
<line x1="359.1" y1="584" x2="359.1" y2="591" stroke="#6a6a6a" stroke-width="0.65"/>
<line x1="395.1" y1="562.5" x2="395.1" y2="573" stroke="#6a6a6a" stroke-width="0.65"/>
<line x1="431.1" y1="555" x2="431.1" y2="559" stroke="#6a6a6a" stroke-width="0.65"/>
<line x1="449.1" y1="593.5" x2="449.1" y2="595.2" stroke="#6a6a6a" stroke-width="0.65"/>
<line x1="319.3" y1="496.7" x2="319.3" y2="599.3" stroke="#7c7c7c" stroke-width="1.0"/>
<line x1="318.6" y1="598.8" x2="471" y2="598.8" stroke="#a6a6a6" stroke-width="1.1"/>
<line x1="317.5" y1="497.0" x2="319.3" y2="497.0" stroke="#b0b0b0" stroke-width="0.8"/>
<text x="315.40000000000003" y="498.65" font-size="4.6" text-anchor="end" font-family='"Liberation Sans", sans-serif' fill="#2a2a2a"  stroke="#2a2a2a" stroke-width="0.18">5</text>
<line x1="317.5" y1="507.18" x2="319.3" y2="507.18" stroke="#b0b0b0" stroke-width="0.8"/>
<text x="315.40000000000003" y="508.83" font-size="4.6" text-anchor="end" font-family='"Liberation Sans", sans-serif' fill="#2a2a2a"  stroke="#2a2a2a" stroke-width="0.18">4.5</text>
<line x1="317.5" y1="517.36" x2="319.3" y2="517.36" stroke="#b0b0b0" stroke-width="0.8"/>
<text x="315.40000000000003" y="519.01" font-size="4.6" text-anchor="end" font-family='"Liberation Sans", sans-serif' fill="#2a2a2a"  stroke="#2a2a2a" stroke-width="0.18">4</text>
<line x1="317.5" y1="527.54" x2="319.3" y2="527.54" stroke="#b0b0b0" stroke-width="0.8"/>
<text x="315.40000000000003" y="529.1899999999999" font-size="4.6" text-anchor="end" font-family='"Liberation Sans", sans-serif' fill="#2a2a2a"  stroke="#2a2a2a" stroke-width="0.18">3.5</text>
<line x1="317.5" y1="537.72" x2="319.3" y2="537.72" stroke="#b0b0b0" stroke-width="0.8"/>
<text x="315.40000000000003" y="539.37" font-size="4.6" text-anchor="end" font-family='"Liberation Sans", sans-serif' fill="#2a2a2a"  stroke="#2a2a2a" stroke-width="0.18">3</text>
<line x1="317.5" y1="547.9" x2="319.3" y2="547.9" stroke="#b0b0b0" stroke-width="0.8"/>
<text x="315.40000000000003" y="549.55" font-size="4.6" text-anchor="end" font-family='"Liberation Sans", sans-serif' fill="#2a2a2a"  stroke="#2a2a2a" stroke-width="0.18">2.5</text>
<line x1="317.5" y1="558.0799999999999" x2="319.3" y2="558.0799999999999" stroke="#b0b0b0" stroke-width="0.8"/>
<text x="315.40000000000003" y="559.7299999999999" font-size="4.6" text-anchor="end" font-family='"Liberation Sans", sans-serif' fill="#2a2a2a"  stroke="#2a2a2a" stroke-width="0.18">2</text>
<line x1="317.5" y1="568.26" x2="319.3" y2="568.26" stroke="#b0b0b0" stroke-width="0.8"/>
<text x="315.40000000000003" y="569.91" font-size="4.6" text-anchor="end" font-family='"Liberation Sans", sans-serif' fill="#2a2a2a"  stroke="#2a2a2a" stroke-width="0.18">1.5</text>
<line x1="317.5" y1="578.4399999999999" x2="319.3" y2="578.4399999999999" stroke="#b0b0b0" stroke-width="0.8"/>
<text x="315.40000000000003" y="580.0899999999999" font-size="4.6" text-anchor="end" font-family='"Liberation Sans", sans-serif' fill="#2a2a2a"  stroke="#2a2a2a" stroke-width="0.18">1</text>
<line x1="317.5" y1="588.62" x2="319.3" y2="588.62" stroke="#b0b0b0" stroke-width="0.8"/>
<text x="315.40000000000003" y="590.27" font-size="4.6" text-anchor="end" font-family='"Liberation Sans", sans-serif' fill="#2a2a2a"  stroke="#2a2a2a" stroke-width="0.18">0.5</text>
<line x1="317.5" y1="598.8" x2="319.3" y2="598.8" stroke="#b0b0b0" stroke-width="0.8"/>
<text x="315.40000000000003" y="600.4499999999999" font-size="4.6" text-anchor="end" font-family='"Liberation Sans", sans-serif' fill="#2a2a2a"  stroke="#2a2a2a" stroke-width="0.18">0</text>
<text transform="translate(287.9,547.5) rotate(-90) scale(0.875,1)" font-size="10.3" text-anchor="middle" font-family='"Liberation Serif", serif' fill="#1a1a1a" stroke="#1a1a1a" stroke-width="0.2">Normalized transcript</text>
<text transform="translate(298.4,547.5) rotate(-90) scale(0.875,1)" font-size="10.3" text-anchor="middle" font-family='"Liberation Serif", serif' fill="#1a1a1a" stroke="#1a1a1a" stroke-width="0.2">levels (x10<tspan font-size="6.39" dy="-3.91">-3</tspan><tspan dy="3.91">)</tspan></text>
<rect x="91.20" y="686.50" width="17.70" height="31.80" fill="url(#chk)" stroke="#555" stroke-width="0.6"/>
<rect x="109.20" y="711.00" width="17.70" height="7.30" fill="#c6c6c6" stroke="#8f8f8f" stroke-width="0.6"/>
<rect x="127.20" y="717.20" width="17.70" height="1.10" fill="url(#chk)" stroke="#555" stroke-width="0.6"/>
<rect x="145.20" y="716.50" width="17.70" height="1.80" fill="url(#dot)" stroke="#8f8f8f" stroke-width="0.6"/>
<rect x="181.20" y="694.00" width="17.70" height="24.30" fill="#000"/>
<rect x="199.20" y="629.50" width="17.70" height="88.80" fill="#fff" stroke="#666" stroke-width="0.6"/>
<line x1="99.9" y1="684" x2="99.9" y2="689" stroke="#6a6a6a" stroke-width="0.65"/>
<line x1="117.9" y1="709" x2="117.9" y2="713" stroke="#6a6a6a" stroke-width="0.65"/>
<line x1="153.9" y1="715.8" x2="153.9" y2="717.2" stroke="#6a6a6a" stroke-width="0.65"/>
<line x1="189.9" y1="692" x2="189.9" y2="694" stroke="#6a6a6a" stroke-width="0.65"/>
<line x1="207.9" y1="623" x2="207.9" y2="636.5" stroke="#6a6a6a" stroke-width="0.65"/>
<line x1="78.5" y1="615.5" x2="78.5" y2="718.8" stroke="#7c7c7c" stroke-width="1.0"/>
<line x1="77.8" y1="718.3" x2="230" y2="718.3" stroke="#a6a6a6" stroke-width="1.1"/>
<line x1="76.7" y1="615.8" x2="78.5" y2="615.8" stroke="#b0b0b0" stroke-width="0.8"/>
<text x="74.6" y="617.4499999999999" font-size="4.6" text-anchor="end" font-family='"Liberation Sans", sans-serif' fill="#2a2a2a"  stroke="#2a2a2a" stroke-width="0.18">1.4</text>
<line x1="76.7" y1="630.4428571428571" x2="78.5" y2="630.4428571428571" stroke="#b0b0b0" stroke-width="0.8"/>
<text x="74.6" y="632.092857142857" font-size="4.6" text-anchor="end" font-family='"Liberation Sans", sans-serif' fill="#2a2a2a"  stroke="#2a2a2a" stroke-width="0.18">1.2</text>
<line x1="76.7" y1="645.0857142857143" x2="78.5" y2="645.0857142857143" stroke="#b0b0b0" stroke-width="0.8"/>
<text x="74.6" y="646.7357142857143" font-size="4.6" text-anchor="end" font-family='"Liberation Sans", sans-serif' fill="#2a2a2a"  stroke="#2a2a2a" stroke-width="0.18">1</text>
<line x1="76.7" y1="659.7285714285714" x2="78.5" y2="659.7285714285714" stroke="#b0b0b0" stroke-width="0.8"/>
<text x="74.6" y="661.3785714285714" font-size="4.6" text-anchor="end" font-family='"Liberation Sans", sans-serif' fill="#2a2a2a"  stroke="#2a2a2a" stroke-width="0.18">0.8</text>
<line x1="76.7" y1="674.3714285714285" x2="78.5" y2="674.3714285714285" stroke="#b0b0b0" stroke-width="0.8"/>
<text x="74.6" y="676.0214285714285" font-size="4.6" text-anchor="end" font-family='"Liberation Sans", sans-serif' fill="#2a2a2a"  stroke="#2a2a2a" stroke-width="0.18">0.6</text>
<line x1="76.7" y1="689.0142857142856" x2="78.5" y2="689.0142857142856" stroke="#b0b0b0" stroke-width="0.8"/>
<text x="74.6" y="690.6642857142856" font-size="4.6" text-anchor="end" font-family='"Liberation Sans", sans-serif' fill="#2a2a2a"  stroke="#2a2a2a" stroke-width="0.18">0.4</text>
<line x1="76.7" y1="703.6571428571428" x2="78.5" y2="703.6571428571428" stroke="#b0b0b0" stroke-width="0.8"/>
<text x="74.6" y="705.3071428571428" font-size="4.6" text-anchor="end" font-family='"Liberation Sans", sans-serif' fill="#2a2a2a"  stroke="#2a2a2a" stroke-width="0.18">0.2</text>
<line x1="76.7" y1="718.3" x2="78.5" y2="718.3" stroke="#b0b0b0" stroke-width="0.8"/>
<text x="74.6" y="719.9499999999999" font-size="4.6" text-anchor="end" font-family='"Liberation Sans", sans-serif' fill="#2a2a2a"  stroke="#2a2a2a" stroke-width="0.18">0</text>
<text transform="translate(46.4,667) rotate(-90) scale(0.875,1)" font-size="10.3" text-anchor="middle" font-family='"Liberation Serif", serif' fill="#1a1a1a" stroke="#1a1a1a" stroke-width="0.2">Normalized transcript</text>
<text transform="translate(56.9,667) rotate(-90) scale(0.875,1)" font-size="10.3" text-anchor="middle" font-family='"Liberation Serif", serif' fill="#1a1a1a" stroke="#1a1a1a" stroke-width="0.2">levels (x10<tspan font-size="6.39" dy="-3.91">-3</tspan><tspan dy="3.91">)</tspan></text>
<clipPath id="c3"><rect x="325.7" y="628.8" width="16.7" height="10.4"/></clipPath>
<rect x="325.70" y="628.80" width="16.70" height="10.40" fill="#fff"/>
<g clip-path="url(#c3)" stroke="#000" stroke-width="2.4">
<line x1="259.50" y1="641.20" x2="277.50" y2="626.80"/>
<line x1="267.90" y1="641.20" x2="285.90" y2="626.80"/>
<line x1="276.30" y1="641.20" x2="294.30" y2="626.80"/>
<line x1="284.70" y1="641.20" x2="302.70" y2="626.80"/>
<line x1="293.10" y1="641.20" x2="311.10" y2="626.80"/>
<line x1="301.50" y1="641.20" x2="319.50" y2="626.80"/>
<line x1="309.90" y1="641.20" x2="327.90" y2="626.80"/>
<line x1="318.30" y1="641.20" x2="336.30" y2="626.80"/>
<line x1="326.70" y1="641.20" x2="344.70" y2="626.80"/>
<line x1="335.10" y1="641.20" x2="353.10" y2="626.80"/>
<line x1="343.50" y1="641.20" x2="361.50" y2="626.80"/>
<line x1="351.90" y1="641.20" x2="369.90" y2="626.80"/>
<line x1="360.30" y1="641.20" x2="378.30" y2="626.80"/>
<line x1="368.70" y1="641.20" x2="386.70" y2="626.80"/>
<line x1="377.10" y1="641.20" x2="395.10" y2="626.80"/>
<line x1="385.50" y1="641.20" x2="403.50" y2="626.80"/>
<line x1="393.90" y1="641.20" x2="411.90" y2="626.80"/>
<line x1="402.30" y1="641.20" x2="420.30" y2="626.80"/>
<line x1="410.70" y1="641.20" x2="428.70" y2="626.80"/>
<line x1="419.10" y1="641.20" x2="437.10" y2="626.80"/>
</g>
<rect x="325.70" y="628.80" width="16.70" height="10.40" fill="none" stroke="#000" stroke-width="0.9"/>
<rect x="325.70" y="644.90" width="16.70" height="9.90" fill="#8c8c8c" stroke="#4a4a4a" stroke-width="0.9"/>
<clipPath id="c4"><rect x="325.7" y="660.6" width="16.7" height="9.9"/></clipPath>
<rect x="325.70" y="660.60" width="16.70" height="9.90" fill="#fff"/>
<g clip-path="url(#c4)" stroke="#000" stroke-width="2.4">
<line x1="261.50" y1="658.60" x2="278.88" y2="672.50"/>
<line x1="269.90" y1="658.60" x2="287.27" y2="672.50"/>
<line x1="278.30" y1="658.60" x2="295.67" y2="672.50"/>
<line x1="286.70" y1="658.60" x2="304.07" y2="672.50"/>
<line x1="295.10" y1="658.60" x2="312.47" y2="672.50"/>
<line x1="303.50" y1="658.60" x2="320.88" y2="672.50"/>
<line x1="311.90" y1="658.60" x2="329.27" y2="672.50"/>
<line x1="320.30" y1="658.60" x2="337.68" y2="672.50"/>
<line x1="328.70" y1="658.60" x2="346.07" y2="672.50"/>
<line x1="337.10" y1="658.60" x2="354.47" y2="672.50"/>
<line x1="345.50" y1="658.60" x2="362.88" y2="672.50"/>
<line x1="353.90" y1="658.60" x2="371.27" y2="672.50"/>
<line x1="362.30" y1="658.60" x2="379.68" y2="672.50"/>
<line x1="370.70" y1="658.60" x2="388.07" y2="672.50"/>
<line x1="379.10" y1="658.60" x2="396.48" y2="672.50"/>
<line x1="387.50" y1="658.60" x2="404.88" y2="672.50"/>
<line x1="395.90" y1="658.60" x2="413.27" y2="672.50"/>
<line x1="404.30" y1="658.60" x2="421.68" y2="672.50"/>
<line x1="412.70" y1="658.60" x2="430.07" y2="672.50"/>
<line x1="421.10" y1="658.60" x2="438.48" y2="672.50"/>
</g>
<rect x="325.70" y="660.60" width="16.70" height="9.90" fill="none" stroke="#000" stroke-width="0.9"/>
<rect x="325.70" y="675.90" width="16.70" height="9.90" fill="#f2f2f2" stroke="#555" stroke-width="0.9"/>
<line x1="329.6" y1="676.5" x2="329.6" y2="685" stroke="#777" stroke-width="0.9" stroke-dasharray="1 0.8"/>
<line x1="338.2" y1="676.5" x2="338.2" y2="685" stroke="#777" stroke-width="0.9" stroke-dasharray="1 0.8"/>
<line x1="326" y1="683.3" x2="342" y2="683.3" stroke="#aaa" stroke-width="0.7"/>
<rect x="325.70" y="696.40" width="16.70" height="9.90" fill="#000" stroke="#000" stroke-width="0.9"/>
<rect x="325.70" y="711.70" width="16.70" height="9.90" fill="#fff" stroke="#333" stroke-width="0.9"/>
<text x="344.5" y="637.8" font-size="9.6" text-anchor="start" font-family='"Liberation Serif", serif' fill="#111"  textLength="78.8" lengthAdjust="spacingAndGlyphs" stroke="#111" stroke-width="0.22">CD34<tspan font-size="5.76" dy="-2.21">+</tspan><tspan dy="2.21" font-size="1">&#8203;</tspan>CD7<tspan font-size="5.76" dy="-2.21">++</tspan><tspan dy="2.21" font-size="1">&#8203;</tspan>CD1a<tspan font-size="5.76" dy="-2.21">-</tspan><tspan dy="2.21" font-size="1">&#8203;</tspan></text>
<text x="344.5" y="653.8" font-size="9.6" text-anchor="start" font-family='"Liberation Serif", serif' fill="#111"  textLength="78" lengthAdjust="spacingAndGlyphs" stroke="#111" stroke-width="0.22">CD34<tspan font-size="5.76" dy="-2.21">-</tspan><tspan dy="2.21" font-size="1">&#8203;</tspan>CD7<tspan font-size="5.76" dy="-2.21">++</tspan><tspan dy="2.21" font-size="1">&#8203;</tspan>CD1a<tspan font-size="5.76" dy="-2.21">-</tspan><tspan dy="2.21" font-size="1">&#8203;</tspan></text>
<text x="344.5" y="669.5" font-size="9.6" text-anchor="start" font-family='"Liberation Serif", serif' fill="#111"  textLength="78.8" lengthAdjust="spacingAndGlyphs" stroke="#111" stroke-width="0.22">CD34<tspan font-size="5.76" dy="-2.21">-</tspan><tspan dy="2.21" font-size="1">&#8203;</tspan>CD7<tspan font-size="5.76" dy="-2.21">++</tspan><tspan dy="2.21" font-size="1">&#8203;</tspan>CD1a<tspan font-size="5.76" dy="-2.21">+</tspan><tspan dy="2.21" font-size="1">&#8203;</tspan></text>
<text x="344.5" y="684.6" font-size="9.6" text-anchor="start" font-family='"Liberation Serif", serif' fill="#111"  textLength="78.8" lengthAdjust="spacingAndGlyphs" stroke="#111" stroke-width="0.22">CD34<tspan font-size="5.76" dy="-2.21">-</tspan><tspan dy="2.21" font-size="1">&#8203;</tspan>CD7<tspan font-size="5.76" dy="-2.21">+</tspan><tspan dy="2.21" font-size="1">&#8203;</tspan>CD1a<tspan font-size="5.76" dy="-2.21">++</tspan><tspan dy="2.21" font-size="1">&#8203;</tspan></text>
<line x1="307" y1="690.2" x2="451" y2="690.2" stroke="#222" stroke-width="0.9"/>
<text x="344.5" y="705.2" font-size="9.6" text-anchor="start" font-family='"Liberation Serif", serif' fill="#111"  textLength="45.8" lengthAdjust="spacingAndGlyphs" stroke="#111" stroke-width="0.22">CD3<tspan font-size="5.76" dy="-2.21">+</tspan><tspan dy="2.21" font-size="1">&#8203;</tspan> UCB</text>
<text x="344.5" y="720.5" font-size="9.6" text-anchor="start" font-family='"Liberation Serif", serif' fill="#111"  textLength="50.8" lengthAdjust="spacingAndGlyphs" stroke="#111" stroke-width="0.22">CD33<tspan font-size="5.76" dy="-2.21">+</tspan><tspan dy="2.21" font-size="1">&#8203;</tspan> UCB</text>
</svg>
<div class="it" style="left:131px;top:8.86px;font-size:13.3px;color:#0a0a0a;transform:scaleX(0.9);">Gata-3</div>
<div class="it" style="left:357px;top:9.36px;font-size:13.3px;color:#0a0a0a;transform:scaleX(0.9);">Deltex-1</div>
<div class="it" style="left:134px;top:136.86px;font-size:13.3px;color:#0a0a0a;transform:scaleX(0.9);">Rag-1</div>
<div class="it" style="left:359px;top:136.36px;font-size:13.3px;color:#0a0a0a;transform:scaleX(0.9);">Notch-1</div>
<div class="it" style="left:468px;top:10.62px;font-size:10px;color:#0a0a0a;">OP9-control</div>
<div class="it" style="left:468px;top:30.12px;font-size:10px;color:#0a0a0a;">OP9-DL1</div>
<div class="it" style="left:131px;top:374.86px;font-size:13.3px;color:#0a0a0a;transform:scaleX(0.9);">Gata-3</div>
<div class="it" style="left:369px;top:374.36px;font-size:13.3px;color:#0a0a0a;transform:scaleX(0.9);">Deltex-1</div>
<div class="it" style="left:134px;top:500.36px;font-size:13.3px;color:#0a0a0a;transform:scaleX(0.9);">Rag-1</div>
<div class="it" style="left:370px;top:500.36px;font-size:13.3px;color:#0a0a0a;transform:scaleX(0.9);">Notch-1</div>
<div class="it" style="left:132px;top:616.36px;font-size:13.3px;color:#0a0a0a;transform:scaleX(0.9);">Cebp&#945;</div>
</div></body></html>
